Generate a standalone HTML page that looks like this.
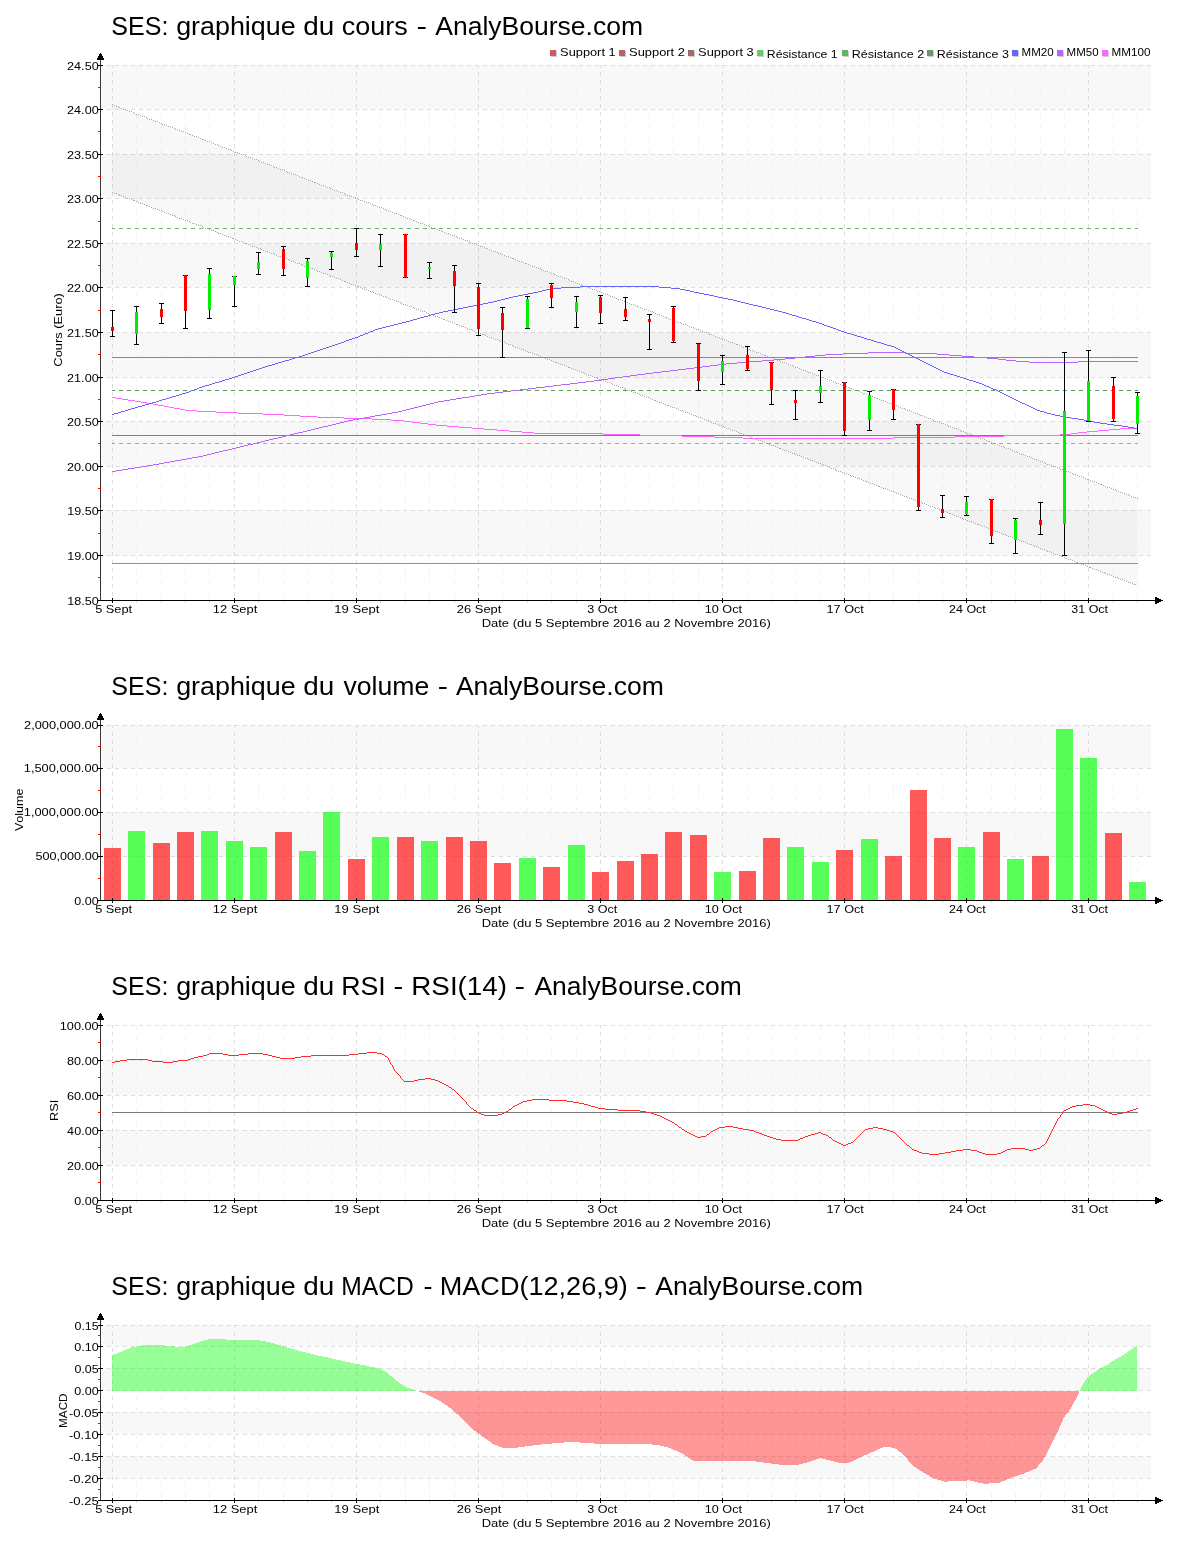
<!DOCTYPE html><html><head><meta charset="utf-8"><title>SES</title><style>html,body{margin:0;padding:0;background:#fff;overflow:hidden}svg{display:block;will-change:transform}text{font-family:"Liberation Sans",sans-serif;font-kerning:none}</style></head><body>
<svg width="1200" height="1550" viewBox="0 0 1200 1550">
<rect x="0" y="0" width="1200" height="1550" fill="#ffffff"/>
<rect x="102" y="65" width="1049" height="44" fill="#f8f8f8"/>
<rect x="102" y="154" width="1049" height="44" fill="#f8f8f8"/>
<rect x="102" y="243" width="1049" height="44" fill="#f8f8f8"/>
<rect x="102" y="332" width="1049" height="45" fill="#f8f8f8"/>
<rect x="102" y="421" width="1049" height="45" fill="#f8f8f8"/>
<rect x="102" y="510" width="1049" height="45" fill="#f8f8f8"/>
<line x1="112.5" y1="65" x2="112.5" y2="600" stroke="#dddddd" stroke-dasharray="4 4" stroke-dashoffset="1" shape-rendering="crispEdges"/>
<line x1="136.5" y1="65" x2="136.5" y2="600" stroke="#f3f3f3" stroke-dasharray="6 6" stroke-dashoffset="1" shape-rendering="crispEdges"/>
<line x1="161.5" y1="65" x2="161.5" y2="600" stroke="#f3f3f3" stroke-dasharray="6 6" stroke-dashoffset="1" shape-rendering="crispEdges"/>
<line x1="185.5" y1="65" x2="185.5" y2="600" stroke="#f3f3f3" stroke-dasharray="6 6" stroke-dashoffset="1" shape-rendering="crispEdges"/>
<line x1="209.5" y1="65" x2="209.5" y2="600" stroke="#f3f3f3" stroke-dasharray="6 6" stroke-dashoffset="1" shape-rendering="crispEdges"/>
<line x1="234.5" y1="65" x2="234.5" y2="600" stroke="#dddddd" stroke-dasharray="4 4" stroke-dashoffset="1" shape-rendering="crispEdges"/>
<line x1="258.5" y1="65" x2="258.5" y2="600" stroke="#f3f3f3" stroke-dasharray="6 6" stroke-dashoffset="1" shape-rendering="crispEdges"/>
<line x1="283.5" y1="65" x2="283.5" y2="600" stroke="#f3f3f3" stroke-dasharray="6 6" stroke-dashoffset="1" shape-rendering="crispEdges"/>
<line x1="307.5" y1="65" x2="307.5" y2="600" stroke="#f3f3f3" stroke-dasharray="6 6" stroke-dashoffset="1" shape-rendering="crispEdges"/>
<line x1="331.5" y1="65" x2="331.5" y2="600" stroke="#f3f3f3" stroke-dasharray="6 6" stroke-dashoffset="1" shape-rendering="crispEdges"/>
<line x1="356.5" y1="65" x2="356.5" y2="600" stroke="#dddddd" stroke-dasharray="4 4" stroke-dashoffset="1" shape-rendering="crispEdges"/>
<line x1="380.5" y1="65" x2="380.5" y2="600" stroke="#f3f3f3" stroke-dasharray="6 6" stroke-dashoffset="1" shape-rendering="crispEdges"/>
<line x1="405.5" y1="65" x2="405.5" y2="600" stroke="#f3f3f3" stroke-dasharray="6 6" stroke-dashoffset="1" shape-rendering="crispEdges"/>
<line x1="429.5" y1="65" x2="429.5" y2="600" stroke="#f3f3f3" stroke-dasharray="6 6" stroke-dashoffset="1" shape-rendering="crispEdges"/>
<line x1="454.5" y1="65" x2="454.5" y2="600" stroke="#f3f3f3" stroke-dasharray="6 6" stroke-dashoffset="1" shape-rendering="crispEdges"/>
<line x1="478.5" y1="65" x2="478.5" y2="600" stroke="#dddddd" stroke-dasharray="4 4" stroke-dashoffset="1" shape-rendering="crispEdges"/>
<line x1="502.5" y1="65" x2="502.5" y2="600" stroke="#f3f3f3" stroke-dasharray="6 6" stroke-dashoffset="1" shape-rendering="crispEdges"/>
<line x1="527.5" y1="65" x2="527.5" y2="600" stroke="#f3f3f3" stroke-dasharray="6 6" stroke-dashoffset="1" shape-rendering="crispEdges"/>
<line x1="551.5" y1="65" x2="551.5" y2="600" stroke="#f3f3f3" stroke-dasharray="6 6" stroke-dashoffset="1" shape-rendering="crispEdges"/>
<line x1="576.5" y1="65" x2="576.5" y2="600" stroke="#f3f3f3" stroke-dasharray="6 6" stroke-dashoffset="1" shape-rendering="crispEdges"/>
<line x1="600.5" y1="65" x2="600.5" y2="600" stroke="#dddddd" stroke-dasharray="4 4" stroke-dashoffset="1" shape-rendering="crispEdges"/>
<line x1="625.5" y1="65" x2="625.5" y2="600" stroke="#f3f3f3" stroke-dasharray="6 6" stroke-dashoffset="1" shape-rendering="crispEdges"/>
<line x1="649.5" y1="65" x2="649.5" y2="600" stroke="#f3f3f3" stroke-dasharray="6 6" stroke-dashoffset="1" shape-rendering="crispEdges"/>
<line x1="673.5" y1="65" x2="673.5" y2="600" stroke="#f3f3f3" stroke-dasharray="6 6" stroke-dashoffset="1" shape-rendering="crispEdges"/>
<line x1="698.5" y1="65" x2="698.5" y2="600" stroke="#f3f3f3" stroke-dasharray="6 6" stroke-dashoffset="1" shape-rendering="crispEdges"/>
<line x1="722.5" y1="65" x2="722.5" y2="600" stroke="#dddddd" stroke-dasharray="4 4" stroke-dashoffset="1" shape-rendering="crispEdges"/>
<line x1="747.5" y1="65" x2="747.5" y2="600" stroke="#f3f3f3" stroke-dasharray="6 6" stroke-dashoffset="1" shape-rendering="crispEdges"/>
<line x1="771.5" y1="65" x2="771.5" y2="600" stroke="#f3f3f3" stroke-dasharray="6 6" stroke-dashoffset="1" shape-rendering="crispEdges"/>
<line x1="795.5" y1="65" x2="795.5" y2="600" stroke="#f3f3f3" stroke-dasharray="6 6" stroke-dashoffset="1" shape-rendering="crispEdges"/>
<line x1="820.5" y1="65" x2="820.5" y2="600" stroke="#f3f3f3" stroke-dasharray="6 6" stroke-dashoffset="1" shape-rendering="crispEdges"/>
<line x1="844.5" y1="65" x2="844.5" y2="600" stroke="#dddddd" stroke-dasharray="4 4" stroke-dashoffset="1" shape-rendering="crispEdges"/>
<line x1="869.5" y1="65" x2="869.5" y2="600" stroke="#f3f3f3" stroke-dasharray="6 6" stroke-dashoffset="1" shape-rendering="crispEdges"/>
<line x1="893.5" y1="65" x2="893.5" y2="600" stroke="#f3f3f3" stroke-dasharray="6 6" stroke-dashoffset="1" shape-rendering="crispEdges"/>
<line x1="918.5" y1="65" x2="918.5" y2="600" stroke="#f3f3f3" stroke-dasharray="6 6" stroke-dashoffset="1" shape-rendering="crispEdges"/>
<line x1="942.5" y1="65" x2="942.5" y2="600" stroke="#f3f3f3" stroke-dasharray="6 6" stroke-dashoffset="1" shape-rendering="crispEdges"/>
<line x1="966.5" y1="65" x2="966.5" y2="600" stroke="#dddddd" stroke-dasharray="4 4" stroke-dashoffset="1" shape-rendering="crispEdges"/>
<line x1="991.5" y1="65" x2="991.5" y2="600" stroke="#f3f3f3" stroke-dasharray="6 6" stroke-dashoffset="1" shape-rendering="crispEdges"/>
<line x1="1015.5" y1="65" x2="1015.5" y2="600" stroke="#f3f3f3" stroke-dasharray="6 6" stroke-dashoffset="1" shape-rendering="crispEdges"/>
<line x1="1040.5" y1="65" x2="1040.5" y2="600" stroke="#f3f3f3" stroke-dasharray="6 6" stroke-dashoffset="1" shape-rendering="crispEdges"/>
<line x1="1064.5" y1="65" x2="1064.5" y2="600" stroke="#f3f3f3" stroke-dasharray="6 6" stroke-dashoffset="1" shape-rendering="crispEdges"/>
<line x1="1088.5" y1="65" x2="1088.5" y2="600" stroke="#dddddd" stroke-dasharray="4 4" stroke-dashoffset="1" shape-rendering="crispEdges"/>
<line x1="1113.5" y1="65" x2="1113.5" y2="600" stroke="#f3f3f3" stroke-dasharray="6 6" stroke-dashoffset="1" shape-rendering="crispEdges"/>
<line x1="1137.5" y1="65" x2="1137.5" y2="600" stroke="#f3f3f3" stroke-dasharray="6 6" stroke-dashoffset="1" shape-rendering="crispEdges"/>
<line x1="102" y1="65.5" x2="1151" y2="65.5" stroke="#dddddd" stroke-dasharray="4 4" stroke-dashoffset="3" shape-rendering="crispEdges"/>
<line x1="102" y1="109.5" x2="1151" y2="109.5" stroke="#dddddd" stroke-dasharray="4 4" stroke-dashoffset="3" shape-rendering="crispEdges"/>
<line x1="102" y1="154.5" x2="1151" y2="154.5" stroke="#dddddd" stroke-dasharray="4 4" stroke-dashoffset="3" shape-rendering="crispEdges"/>
<line x1="102" y1="198.5" x2="1151" y2="198.5" stroke="#dddddd" stroke-dasharray="4 4" stroke-dashoffset="3" shape-rendering="crispEdges"/>
<line x1="102" y1="243.5" x2="1151" y2="243.5" stroke="#dddddd" stroke-dasharray="4 4" stroke-dashoffset="3" shape-rendering="crispEdges"/>
<line x1="102" y1="287.5" x2="1151" y2="287.5" stroke="#dddddd" stroke-dasharray="4 4" stroke-dashoffset="3" shape-rendering="crispEdges"/>
<line x1="102" y1="332.5" x2="1151" y2="332.5" stroke="#dddddd" stroke-dasharray="4 4" stroke-dashoffset="3" shape-rendering="crispEdges"/>
<line x1="102" y1="377.5" x2="1151" y2="377.5" stroke="#dddddd" stroke-dasharray="4 4" stroke-dashoffset="3" shape-rendering="crispEdges"/>
<line x1="102" y1="421.5" x2="1151" y2="421.5" stroke="#dddddd" stroke-dasharray="4 4" stroke-dashoffset="3" shape-rendering="crispEdges"/>
<line x1="102" y1="466.5" x2="1151" y2="466.5" stroke="#dddddd" stroke-dasharray="4 4" stroke-dashoffset="3" shape-rendering="crispEdges"/>
<line x1="102" y1="510.5" x2="1151" y2="510.5" stroke="#dddddd" stroke-dasharray="4 4" stroke-dashoffset="3" shape-rendering="crispEdges"/>
<line x1="102" y1="555.5" x2="1151" y2="555.5" stroke="#dddddd" stroke-dasharray="4 4" stroke-dashoffset="3" shape-rendering="crispEdges"/>
<polygon points="112,104.7 1137,498.5 1137,585.6 112,192.3" fill="#000" fill-opacity="0.028"/>
<path d="M112 104h1v1h-1zM114 105h1v1h-1zM116 106h1v1h-1zM118 106h1v1h-1zM119 107h1v1h-1zM121 108h1v1h-1zM123 109h1v1h-1zM125 109h1v1h-1zM127 110h1v1h-1zM129 111h1v1h-1zM131 111h1v1h-1zM133 112h1v1h-1zM134 113h1v1h-1zM136 114h1v1h-1zM138 114h1v1h-1zM140 115h1v1h-1zM142 116h1v1h-1zM144 116h1v1h-1zM146 117h1v1h-1zM147 118h1v1h-1zM149 119h1v1h-1zM151 119h1v1h-1zM153 120h1v1h-1zM155 121h1v1h-1zM157 121h1v1h-1zM159 122h1v1h-1zM161 123h1v1h-1zM162 124h1v1h-1zM164 124h1v1h-1zM166 125h1v1h-1zM168 126h1v1h-1zM170 126h1v1h-1zM172 127h1v1h-1zM174 128h1v1h-1zM175 129h1v1h-1zM177 129h1v1h-1zM179 130h1v1h-1zM181 131h1v1h-1zM183 131h1v1h-1zM185 132h1v1h-1zM187 133h1v1h-1zM189 134h1v1h-1zM190 134h1v1h-1zM192 135h1v1h-1zM194 136h1v1h-1zM196 136h1v1h-1zM198 137h1v1h-1zM200 138h1v1h-1zM202 139h1v1h-1zM203 139h1v1h-1zM205 140h1v1h-1zM207 141h1v1h-1zM209 141h1v1h-1zM211 142h1v1h-1zM213 143h1v1h-1zM215 144h1v1h-1zM217 144h1v1h-1zM218 145h1v1h-1zM220 146h1v1h-1zM222 147h1v1h-1zM224 147h1v1h-1zM226 148h1v1h-1zM228 149h1v1h-1zM230 149h1v1h-1zM231 150h1v1h-1zM233 151h1v1h-1zM235 152h1v1h-1zM237 152h1v1h-1zM239 153h1v1h-1zM241 154h1v1h-1zM243 154h1v1h-1zM245 155h1v1h-1zM246 156h1v1h-1zM248 157h1v1h-1zM250 157h1v1h-1zM252 158h1v1h-1zM254 159h1v1h-1zM256 159h1v1h-1zM258 160h1v1h-1zM259 161h1v1h-1zM261 162h1v1h-1zM263 162h1v1h-1zM265 163h1v1h-1zM267 164h1v1h-1zM269 164h1v1h-1zM271 165h1v1h-1zM273 166h1v1h-1zM274 167h1v1h-1zM276 167h1v1h-1zM278 168h1v1h-1zM280 169h1v1h-1zM282 169h1v1h-1zM284 170h1v1h-1zM286 171h1v1h-1zM287 172h1v1h-1zM289 172h1v1h-1zM291 173h1v1h-1zM293 174h1v1h-1zM295 174h1v1h-1zM297 175h1v1h-1zM299 176h1v1h-1zM301 177h1v1h-1zM302 177h1v1h-1zM304 178h1v1h-1zM306 179h1v1h-1zM308 180h1v1h-1zM310 180h1v1h-1zM312 181h1v1h-1zM314 182h1v1h-1zM315 182h1v1h-1zM317 183h1v1h-1zM319 184h1v1h-1zM321 185h1v1h-1zM323 185h1v1h-1zM325 186h1v1h-1zM327 187h1v1h-1zM329 187h1v1h-1zM330 188h1v1h-1zM332 189h1v1h-1zM334 190h1v1h-1zM336 190h1v1h-1zM338 191h1v1h-1zM340 192h1v1h-1zM342 192h1v1h-1zM344 193h1v1h-1zM345 194h1v1h-1zM347 195h1v1h-1zM349 195h1v1h-1zM351 196h1v1h-1zM353 197h1v1h-1zM355 197h1v1h-1zM357 198h1v1h-1zM358 199h1v1h-1zM360 200h1v1h-1zM362 200h1v1h-1zM364 201h1v1h-1zM366 202h1v1h-1zM368 202h1v1h-1zM370 203h1v1h-1zM372 204h1v1h-1zM373 205h1v1h-1zM375 205h1v1h-1zM377 206h1v1h-1zM379 207h1v1h-1zM381 207h1v1h-1zM383 208h1v1h-1zM385 209h1v1h-1zM386 210h1v1h-1zM388 210h1v1h-1zM390 211h1v1h-1zM392 212h1v1h-1zM394 213h1v1h-1zM396 213h1v1h-1zM398 214h1v1h-1zM400 215h1v1h-1zM401 215h1v1h-1zM403 216h1v1h-1zM405 217h1v1h-1zM407 218h1v1h-1zM409 218h1v1h-1zM411 219h1v1h-1zM413 220h1v1h-1zM414 220h1v1h-1zM416 221h1v1h-1zM418 222h1v1h-1zM420 223h1v1h-1zM422 223h1v1h-1zM424 224h1v1h-1zM426 225h1v1h-1zM428 225h1v1h-1zM429 226h1v1h-1zM431 227h1v1h-1zM433 228h1v1h-1zM435 228h1v1h-1zM437 229h1v1h-1zM439 230h1v1h-1zM441 230h1v1h-1zM442 231h1v1h-1zM444 232h1v1h-1zM446 233h1v1h-1zM448 233h1v1h-1zM450 234h1v1h-1zM452 235h1v1h-1zM454 235h1v1h-1zM456 236h1v1h-1zM457 237h1v1h-1zM459 238h1v1h-1zM461 238h1v1h-1zM463 239h1v1h-1zM465 240h1v1h-1zM467 240h1v1h-1zM469 241h1v1h-1zM470 242h1v1h-1zM472 243h1v1h-1zM474 243h1v1h-1zM476 244h1v1h-1zM478 245h1v1h-1zM480 246h1v1h-1zM482 246h1v1h-1zM484 247h1v1h-1zM485 248h1v1h-1zM487 248h1v1h-1zM489 249h1v1h-1zM491 250h1v1h-1zM493 251h1v1h-1zM495 251h1v1h-1zM497 252h1v1h-1zM498 253h1v1h-1zM500 253h1v1h-1zM502 254h1v1h-1zM504 255h1v1h-1zM506 256h1v1h-1zM508 256h1v1h-1zM510 257h1v1h-1zM512 258h1v1h-1zM513 258h1v1h-1zM515 259h1v1h-1zM517 260h1v1h-1zM519 261h1v1h-1zM521 261h1v1h-1zM523 262h1v1h-1zM525 263h1v1h-1zM526 263h1v1h-1zM528 264h1v1h-1zM530 265h1v1h-1zM532 266h1v1h-1zM534 266h1v1h-1zM536 267h1v1h-1zM538 268h1v1h-1zM540 268h1v1h-1zM541 269h1v1h-1zM543 270h1v1h-1zM545 271h1v1h-1zM547 271h1v1h-1zM549 272h1v1h-1zM551 273h1v1h-1zM553 273h1v1h-1zM554 274h1v1h-1zM556 275h1v1h-1zM558 276h1v1h-1zM560 276h1v1h-1zM562 277h1v1h-1zM564 278h1v1h-1zM566 278h1v1h-1zM568 279h1v1h-1zM569 280h1v1h-1zM571 281h1v1h-1zM573 281h1v1h-1zM575 282h1v1h-1zM577 283h1v1h-1zM579 284h1v1h-1zM581 284h1v1h-1zM582 285h1v1h-1zM584 286h1v1h-1zM586 286h1v1h-1zM588 287h1v1h-1zM590 288h1v1h-1zM592 289h1v1h-1zM594 289h1v1h-1zM596 290h1v1h-1zM597 291h1v1h-1zM599 291h1v1h-1zM601 292h1v1h-1zM603 293h1v1h-1zM605 294h1v1h-1zM607 294h1v1h-1zM609 295h1v1h-1zM610 296h1v1h-1zM612 296h1v1h-1zM614 297h1v1h-1zM616 298h1v1h-1zM618 299h1v1h-1zM620 299h1v1h-1zM622 300h1v1h-1zM624 301h1v1h-1zM625 301h1v1h-1zM627 302h1v1h-1zM629 303h1v1h-1zM631 304h1v1h-1zM633 304h1v1h-1zM635 305h1v1h-1zM637 306h1v1h-1zM638 306h1v1h-1zM640 307h1v1h-1zM642 308h1v1h-1zM644 309h1v1h-1zM646 309h1v1h-1zM648 310h1v1h-1zM650 311h1v1h-1zM652 311h1v1h-1zM653 312h1v1h-1zM655 313h1v1h-1zM657 314h1v1h-1zM659 314h1v1h-1zM661 315h1v1h-1zM663 316h1v1h-1zM665 317h1v1h-1zM666 317h1v1h-1zM668 318h1v1h-1zM670 319h1v1h-1zM672 319h1v1h-1zM674 320h1v1h-1zM676 321h1v1h-1zM678 322h1v1h-1zM680 322h1v1h-1zM681 323h1v1h-1zM683 324h1v1h-1zM685 324h1v1h-1zM687 325h1v1h-1zM689 326h1v1h-1zM691 327h1v1h-1zM693 327h1v1h-1zM694 328h1v1h-1zM696 329h1v1h-1zM698 329h1v1h-1zM700 330h1v1h-1zM702 331h1v1h-1zM704 332h1v1h-1zM706 332h1v1h-1zM708 333h1v1h-1zM709 334h1v1h-1zM711 334h1v1h-1zM713 335h1v1h-1zM715 336h1v1h-1zM717 337h1v1h-1zM719 337h1v1h-1zM721 338h1v1h-1zM722 339h1v1h-1zM724 339h1v1h-1zM726 340h1v1h-1zM728 341h1v1h-1zM730 342h1v1h-1zM732 342h1v1h-1zM734 343h1v1h-1zM736 344h1v1h-1zM737 344h1v1h-1zM739 345h1v1h-1zM741 346h1v1h-1zM743 347h1v1h-1zM745 347h1v1h-1zM747 348h1v1h-1zM749 349h1v1h-1zM750 350h1v1h-1zM752 350h1v1h-1zM754 351h1v1h-1zM756 352h1v1h-1zM758 352h1v1h-1zM760 353h1v1h-1zM762 354h1v1h-1zM764 355h1v1h-1zM765 355h1v1h-1zM767 356h1v1h-1zM769 357h1v1h-1zM771 357h1v1h-1zM773 358h1v1h-1zM775 359h1v1h-1zM777 360h1v1h-1zM779 360h1v1h-1zM780 361h1v1h-1zM782 362h1v1h-1zM784 362h1v1h-1zM786 363h1v1h-1zM788 364h1v1h-1zM790 365h1v1h-1zM792 365h1v1h-1zM793 366h1v1h-1zM795 367h1v1h-1zM797 367h1v1h-1zM799 368h1v1h-1zM801 369h1v1h-1zM803 370h1v1h-1zM805 370h1v1h-1zM807 371h1v1h-1zM808 372h1v1h-1zM810 372h1v1h-1zM812 373h1v1h-1zM814 374h1v1h-1zM816 375h1v1h-1zM818 375h1v1h-1zM820 376h1v1h-1zM821 377h1v1h-1zM823 377h1v1h-1zM825 378h1v1h-1zM827 379h1v1h-1zM829 380h1v1h-1zM831 380h1v1h-1zM833 381h1v1h-1zM835 382h1v1h-1zM836 383h1v1h-1zM838 383h1v1h-1zM840 384h1v1h-1zM842 385h1v1h-1zM844 385h1v1h-1zM846 386h1v1h-1zM848 387h1v1h-1zM849 388h1v1h-1zM851 388h1v1h-1zM853 389h1v1h-1zM855 390h1v1h-1zM857 390h1v1h-1zM859 391h1v1h-1zM861 392h1v1h-1zM863 393h1v1h-1zM864 393h1v1h-1zM866 394h1v1h-1zM868 395h1v1h-1zM870 395h1v1h-1zM872 396h1v1h-1zM874 397h1v1h-1zM876 398h1v1h-1zM877 398h1v1h-1zM879 399h1v1h-1zM881 400h1v1h-1zM883 400h1v1h-1zM885 401h1v1h-1zM887 402h1v1h-1zM889 403h1v1h-1zM891 403h1v1h-1zM892 404h1v1h-1zM894 405h1v1h-1zM896 405h1v1h-1zM898 406h1v1h-1zM900 407h1v1h-1zM902 408h1v1h-1zM904 408h1v1h-1zM905 409h1v1h-1zM907 410h1v1h-1zM909 410h1v1h-1zM911 411h1v1h-1zM913 412h1v1h-1zM915 413h1v1h-1zM917 413h1v1h-1zM919 414h1v1h-1zM920 415h1v1h-1zM922 415h1v1h-1zM924 416h1v1h-1zM926 417h1v1h-1zM928 418h1v1h-1zM930 418h1v1h-1zM932 419h1v1h-1zM933 420h1v1h-1zM935 421h1v1h-1zM937 421h1v1h-1zM939 422h1v1h-1zM941 423h1v1h-1zM943 423h1v1h-1zM945 424h1v1h-1zM947 425h1v1h-1zM948 426h1v1h-1zM950 426h1v1h-1zM952 427h1v1h-1zM954 428h1v1h-1zM956 428h1v1h-1zM958 429h1v1h-1zM960 430h1v1h-1zM961 431h1v1h-1zM963 431h1v1h-1zM965 432h1v1h-1zM967 433h1v1h-1zM969 433h1v1h-1zM971 434h1v1h-1zM973 435h1v1h-1zM975 436h1v1h-1zM976 436h1v1h-1zM978 437h1v1h-1zM980 438h1v1h-1zM982 438h1v1h-1zM984 439h1v1h-1zM986 440h1v1h-1zM988 441h1v1h-1zM989 441h1v1h-1zM991 442h1v1h-1zM993 443h1v1h-1zM995 443h1v1h-1zM997 444h1v1h-1zM999 445h1v1h-1zM1001 446h1v1h-1zM1003 446h1v1h-1zM1004 447h1v1h-1zM1006 448h1v1h-1zM1008 448h1v1h-1zM1010 449h1v1h-1zM1012 450h1v1h-1zM1014 451h1v1h-1zM1016 451h1v1h-1zM1017 452h1v1h-1zM1019 453h1v1h-1zM1021 454h1v1h-1zM1023 454h1v1h-1zM1025 455h1v1h-1zM1027 456h1v1h-1zM1029 456h1v1h-1zM1031 457h1v1h-1zM1032 458h1v1h-1zM1034 459h1v1h-1zM1036 459h1v1h-1zM1038 460h1v1h-1zM1040 461h1v1h-1zM1042 461h1v1h-1zM1044 462h1v1h-1zM1045 463h1v1h-1zM1047 464h1v1h-1zM1049 464h1v1h-1zM1051 465h1v1h-1zM1053 466h1v1h-1zM1055 466h1v1h-1zM1057 467h1v1h-1zM1059 468h1v1h-1zM1060 469h1v1h-1zM1062 469h1v1h-1zM1064 470h1v1h-1zM1066 471h1v1h-1zM1068 471h1v1h-1zM1070 472h1v1h-1zM1072 473h1v1h-1zM1073 474h1v1h-1zM1075 474h1v1h-1zM1077 475h1v1h-1zM1079 476h1v1h-1zM1081 476h1v1h-1zM1083 477h1v1h-1zM1085 478h1v1h-1zM1087 479h1v1h-1zM1088 479h1v1h-1zM1090 480h1v1h-1zM1092 481h1v1h-1zM1094 481h1v1h-1zM1096 482h1v1h-1zM1098 483h1v1h-1zM1100 484h1v1h-1zM1101 484h1v1h-1zM1103 485h1v1h-1zM1105 486h1v1h-1zM1107 487h1v1h-1zM1109 487h1v1h-1zM1111 488h1v1h-1zM1113 489h1v1h-1zM1115 489h1v1h-1zM1116 490h1v1h-1zM1118 491h1v1h-1zM1120 492h1v1h-1zM1122 492h1v1h-1zM1124 493h1v1h-1zM1126 494h1v1h-1zM1128 494h1v1h-1zM1129 495h1v1h-1zM1131 496h1v1h-1zM1133 497h1v1h-1zM1135 497h1v1h-1zM1137 498h1v1h-1zM112 192h1v1h-1zM114 193h1v1h-1zM116 193h1v1h-1zM118 194h1v1h-1zM119 195h1v1h-1zM121 195h1v1h-1zM123 196h1v1h-1zM125 197h1v1h-1zM127 198h1v1h-1zM129 198h1v1h-1zM131 199h1v1h-1zM133 200h1v1h-1zM134 200h1v1h-1zM136 201h1v1h-1zM138 202h1v1h-1zM140 203h1v1h-1zM142 203h1v1h-1zM144 204h1v1h-1zM146 205h1v1h-1zM147 205h1v1h-1zM149 206h1v1h-1zM151 207h1v1h-1zM153 208h1v1h-1zM155 208h1v1h-1zM157 209h1v1h-1zM159 210h1v1h-1zM161 210h1v1h-1zM162 211h1v1h-1zM164 212h1v1h-1zM166 213h1v1h-1zM168 213h1v1h-1zM170 214h1v1h-1zM172 215h1v1h-1zM174 215h1v1h-1zM175 216h1v1h-1zM177 217h1v1h-1zM179 218h1v1h-1zM181 218h1v1h-1zM183 219h1v1h-1zM185 220h1v1h-1zM187 220h1v1h-1zM189 221h1v1h-1zM190 222h1v1h-1zM192 223h1v1h-1zM194 223h1v1h-1zM196 224h1v1h-1zM198 225h1v1h-1zM200 225h1v1h-1zM202 226h1v1h-1zM203 227h1v1h-1zM205 228h1v1h-1zM207 228h1v1h-1zM209 229h1v1h-1zM211 230h1v1h-1zM213 230h1v1h-1zM215 231h1v1h-1zM217 232h1v1h-1zM218 233h1v1h-1zM220 233h1v1h-1zM222 234h1v1h-1zM224 235h1v1h-1zM226 236h1v1h-1zM228 236h1v1h-1zM230 237h1v1h-1zM232 238h1v1h-1zM233 238h1v1h-1zM235 239h1v1h-1zM237 240h1v1h-1zM239 241h1v1h-1zM241 241h1v1h-1zM243 242h1v1h-1zM245 243h1v1h-1zM246 243h1v1h-1zM248 244h1v1h-1zM250 245h1v1h-1zM252 246h1v1h-1zM254 246h1v1h-1zM256 247h1v1h-1zM258 248h1v1h-1zM260 248h1v1h-1zM261 249h1v1h-1zM263 250h1v1h-1zM265 251h1v1h-1zM267 251h1v1h-1zM269 252h1v1h-1zM271 253h1v1h-1zM273 253h1v1h-1zM274 254h1v1h-1zM276 255h1v1h-1zM278 256h1v1h-1zM280 256h1v1h-1zM282 257h1v1h-1zM284 258h1v1h-1zM286 258h1v1h-1zM288 259h1v1h-1zM289 260h1v1h-1zM291 261h1v1h-1zM293 261h1v1h-1zM295 262h1v1h-1zM297 263h1v1h-1zM299 263h1v1h-1zM301 264h1v1h-1zM302 265h1v1h-1zM304 266h1v1h-1zM306 266h1v1h-1zM308 267h1v1h-1zM310 268h1v1h-1zM312 268h1v1h-1zM314 269h1v1h-1zM316 270h1v1h-1zM317 271h1v1h-1zM319 271h1v1h-1zM321 272h1v1h-1zM323 273h1v1h-1zM325 273h1v1h-1zM327 274h1v1h-1zM329 275h1v1h-1zM330 276h1v1h-1zM332 276h1v1h-1zM334 277h1v1h-1zM336 278h1v1h-1zM338 278h1v1h-1zM340 279h1v1h-1zM342 280h1v1h-1zM344 281h1v1h-1zM345 281h1v1h-1zM347 282h1v1h-1zM349 283h1v1h-1zM351 284h1v1h-1zM353 284h1v1h-1zM355 285h1v1h-1zM357 286h1v1h-1zM358 286h1v1h-1zM360 287h1v1h-1zM362 288h1v1h-1zM364 289h1v1h-1zM366 289h1v1h-1zM368 290h1v1h-1zM370 291h1v1h-1zM372 291h1v1h-1zM373 292h1v1h-1zM375 293h1v1h-1zM377 294h1v1h-1zM379 294h1v1h-1zM381 295h1v1h-1zM383 296h1v1h-1zM385 296h1v1h-1zM386 297h1v1h-1zM388 298h1v1h-1zM390 299h1v1h-1zM392 299h1v1h-1zM394 300h1v1h-1zM396 301h1v1h-1zM398 301h1v1h-1zM400 302h1v1h-1zM401 303h1v1h-1zM403 304h1v1h-1zM405 304h1v1h-1zM407 305h1v1h-1zM409 306h1v1h-1zM411 306h1v1h-1zM413 307h1v1h-1zM414 308h1v1h-1zM416 309h1v1h-1zM418 309h1v1h-1zM420 310h1v1h-1zM422 311h1v1h-1zM424 311h1v1h-1zM426 312h1v1h-1zM428 313h1v1h-1zM429 314h1v1h-1zM431 314h1v1h-1zM433 315h1v1h-1zM435 316h1v1h-1zM437 316h1v1h-1zM439 317h1v1h-1zM441 318h1v1h-1zM443 319h1v1h-1zM444 319h1v1h-1zM446 320h1v1h-1zM448 321h1v1h-1zM450 321h1v1h-1zM452 322h1v1h-1zM454 323h1v1h-1zM456 324h1v1h-1zM457 324h1v1h-1zM459 325h1v1h-1zM461 326h1v1h-1zM463 326h1v1h-1zM465 327h1v1h-1zM467 328h1v1h-1zM469 329h1v1h-1zM471 329h1v1h-1zM472 330h1v1h-1zM474 331h1v1h-1zM476 332h1v1h-1zM478 332h1v1h-1zM480 333h1v1h-1zM482 334h1v1h-1zM484 334h1v1h-1zM485 335h1v1h-1zM487 336h1v1h-1zM489 337h1v1h-1zM491 337h1v1h-1zM493 338h1v1h-1zM495 339h1v1h-1zM497 339h1v1h-1zM499 340h1v1h-1zM500 341h1v1h-1zM502 342h1v1h-1zM504 342h1v1h-1zM506 343h1v1h-1zM508 344h1v1h-1zM510 344h1v1h-1zM512 345h1v1h-1zM513 346h1v1h-1zM515 347h1v1h-1zM517 347h1v1h-1zM519 348h1v1h-1zM521 349h1v1h-1zM523 349h1v1h-1zM525 350h1v1h-1zM527 351h1v1h-1zM528 352h1v1h-1zM530 352h1v1h-1zM532 353h1v1h-1zM534 354h1v1h-1zM536 354h1v1h-1zM538 355h1v1h-1zM540 356h1v1h-1zM541 357h1v1h-1zM543 357h1v1h-1zM545 358h1v1h-1zM547 359h1v1h-1zM549 359h1v1h-1zM551 360h1v1h-1zM553 361h1v1h-1zM555 362h1v1h-1zM556 362h1v1h-1zM558 363h1v1h-1zM560 364h1v1h-1zM562 364h1v1h-1zM564 365h1v1h-1zM566 366h1v1h-1zM568 367h1v1h-1zM569 367h1v1h-1zM571 368h1v1h-1zM573 369h1v1h-1zM575 369h1v1h-1zM577 370h1v1h-1zM579 371h1v1h-1zM581 372h1v1h-1zM583 372h1v1h-1zM584 373h1v1h-1zM586 374h1v1h-1zM588 375h1v1h-1zM590 375h1v1h-1zM592 376h1v1h-1zM594 377h1v1h-1zM596 377h1v1h-1zM597 378h1v1h-1zM599 379h1v1h-1zM601 380h1v1h-1zM603 380h1v1h-1zM605 381h1v1h-1zM607 382h1v1h-1zM609 382h1v1h-1zM611 383h1v1h-1zM612 384h1v1h-1zM614 385h1v1h-1zM616 385h1v1h-1zM618 386h1v1h-1zM620 387h1v1h-1zM622 387h1v1h-1zM624 388h1v1h-1zM625 389h1v1h-1zM627 390h1v1h-1zM629 390h1v1h-1zM631 391h1v1h-1zM633 392h1v1h-1zM635 392h1v1h-1zM637 393h1v1h-1zM639 394h1v1h-1zM640 395h1v1h-1zM642 395h1v1h-1zM644 396h1v1h-1zM646 397h1v1h-1zM648 397h1v1h-1zM650 398h1v1h-1zM652 399h1v1h-1zM654 400h1v1h-1zM655 400h1v1h-1zM657 401h1v1h-1zM659 402h1v1h-1zM661 402h1v1h-1zM663 403h1v1h-1zM665 404h1v1h-1zM667 405h1v1h-1zM668 405h1v1h-1zM670 406h1v1h-1zM672 407h1v1h-1zM674 407h1v1h-1zM676 408h1v1h-1zM678 409h1v1h-1zM680 410h1v1h-1zM682 410h1v1h-1zM683 411h1v1h-1zM685 412h1v1h-1zM687 412h1v1h-1zM689 413h1v1h-1zM691 414h1v1h-1zM693 415h1v1h-1zM695 415h1v1h-1zM696 416h1v1h-1zM698 417h1v1h-1zM700 417h1v1h-1zM702 418h1v1h-1zM704 419h1v1h-1zM706 420h1v1h-1zM708 420h1v1h-1zM710 421h1v1h-1zM711 422h1v1h-1zM713 423h1v1h-1zM715 423h1v1h-1zM717 424h1v1h-1zM719 425h1v1h-1zM721 425h1v1h-1zM723 426h1v1h-1zM724 427h1v1h-1zM726 428h1v1h-1zM728 428h1v1h-1zM730 429h1v1h-1zM732 430h1v1h-1zM734 430h1v1h-1zM736 431h1v1h-1zM738 432h1v1h-1zM739 433h1v1h-1zM741 433h1v1h-1zM743 434h1v1h-1zM745 435h1v1h-1zM747 435h1v1h-1zM749 436h1v1h-1zM751 437h1v1h-1zM752 438h1v1h-1zM754 438h1v1h-1zM756 439h1v1h-1zM758 440h1v1h-1zM760 440h1v1h-1zM762 441h1v1h-1zM764 442h1v1h-1zM766 443h1v1h-1zM767 443h1v1h-1zM769 444h1v1h-1zM771 445h1v1h-1zM773 445h1v1h-1zM775 446h1v1h-1zM777 447h1v1h-1zM779 448h1v1h-1zM780 448h1v1h-1zM782 449h1v1h-1zM784 450h1v1h-1zM786 450h1v1h-1zM788 451h1v1h-1zM790 452h1v1h-1zM792 453h1v1h-1zM794 453h1v1h-1zM795 454h1v1h-1zM797 455h1v1h-1zM799 455h1v1h-1zM801 456h1v1h-1zM803 457h1v1h-1zM805 458h1v1h-1zM807 458h1v1h-1zM808 459h1v1h-1zM810 460h1v1h-1zM812 460h1v1h-1zM814 461h1v1h-1zM816 462h1v1h-1zM818 463h1v1h-1zM820 463h1v1h-1zM822 464h1v1h-1zM823 465h1v1h-1zM825 465h1v1h-1zM827 466h1v1h-1zM829 467h1v1h-1zM831 468h1v1h-1zM833 468h1v1h-1zM835 469h1v1h-1zM836 470h1v1h-1zM838 471h1v1h-1zM840 471h1v1h-1zM842 472h1v1h-1zM844 473h1v1h-1zM846 473h1v1h-1zM848 474h1v1h-1zM850 475h1v1h-1zM851 476h1v1h-1zM853 476h1v1h-1zM855 477h1v1h-1zM857 478h1v1h-1zM859 478h1v1h-1zM861 479h1v1h-1zM863 480h1v1h-1zM865 481h1v1h-1zM866 481h1v1h-1zM868 482h1v1h-1zM870 483h1v1h-1zM872 483h1v1h-1zM874 484h1v1h-1zM876 485h1v1h-1zM878 486h1v1h-1zM879 486h1v1h-1zM881 487h1v1h-1zM883 488h1v1h-1zM885 488h1v1h-1zM887 489h1v1h-1zM889 490h1v1h-1zM891 491h1v1h-1zM893 491h1v1h-1zM894 492h1v1h-1zM896 493h1v1h-1zM898 493h1v1h-1zM900 494h1v1h-1zM902 495h1v1h-1zM904 496h1v1h-1zM906 496h1v1h-1zM907 497h1v1h-1zM909 498h1v1h-1zM911 498h1v1h-1zM913 499h1v1h-1zM915 500h1v1h-1zM917 501h1v1h-1zM919 501h1v1h-1zM921 502h1v1h-1zM922 503h1v1h-1zM924 503h1v1h-1zM926 504h1v1h-1zM928 505h1v1h-1zM930 506h1v1h-1zM932 506h1v1h-1zM934 507h1v1h-1zM935 508h1v1h-1zM937 508h1v1h-1zM939 509h1v1h-1zM941 510h1v1h-1zM943 511h1v1h-1zM945 511h1v1h-1zM947 512h1v1h-1zM949 513h1v1h-1zM950 513h1v1h-1zM952 514h1v1h-1zM954 515h1v1h-1zM956 516h1v1h-1zM958 516h1v1h-1zM960 517h1v1h-1zM962 518h1v1h-1zM963 519h1v1h-1zM965 519h1v1h-1zM967 520h1v1h-1zM969 521h1v1h-1zM971 521h1v1h-1zM973 522h1v1h-1zM975 523h1v1h-1zM977 524h1v1h-1zM978 524h1v1h-1zM980 525h1v1h-1zM982 526h1v1h-1zM984 526h1v1h-1zM986 527h1v1h-1zM988 528h1v1h-1zM990 529h1v1h-1zM991 529h1v1h-1zM993 530h1v1h-1zM995 531h1v1h-1zM997 531h1v1h-1zM999 532h1v1h-1zM1001 533h1v1h-1zM1003 534h1v1h-1zM1005 534h1v1h-1zM1006 535h1v1h-1zM1008 536h1v1h-1zM1010 536h1v1h-1zM1012 537h1v1h-1zM1014 538h1v1h-1zM1016 539h1v1h-1zM1018 539h1v1h-1zM1019 540h1v1h-1zM1021 541h1v1h-1zM1023 541h1v1h-1zM1025 542h1v1h-1zM1027 543h1v1h-1zM1029 544h1v1h-1zM1031 544h1v1h-1zM1033 545h1v1h-1zM1034 546h1v1h-1zM1036 546h1v1h-1zM1038 547h1v1h-1zM1040 548h1v1h-1zM1042 549h1v1h-1zM1044 549h1v1h-1zM1046 550h1v1h-1zM1047 551h1v1h-1zM1049 551h1v1h-1zM1051 552h1v1h-1zM1053 553h1v1h-1zM1055 554h1v1h-1zM1057 554h1v1h-1zM1059 555h1v1h-1zM1061 556h1v1h-1zM1062 556h1v1h-1zM1064 557h1v1h-1zM1066 558h1v1h-1zM1068 559h1v1h-1zM1070 559h1v1h-1zM1072 560h1v1h-1zM1074 561h1v1h-1zM1076 562h1v1h-1zM1077 562h1v1h-1zM1079 563h1v1h-1zM1081 564h1v1h-1zM1083 564h1v1h-1zM1085 565h1v1h-1zM1087 566h1v1h-1zM1089 567h1v1h-1zM1090 567h1v1h-1zM1092 568h1v1h-1zM1094 569h1v1h-1zM1096 569h1v1h-1zM1098 570h1v1h-1zM1100 571h1v1h-1zM1102 572h1v1h-1zM1104 572h1v1h-1zM1105 573h1v1h-1zM1107 574h1v1h-1zM1109 574h1v1h-1zM1111 575h1v1h-1zM1113 576h1v1h-1zM1115 577h1v1h-1zM1117 577h1v1h-1zM1118 578h1v1h-1zM1120 579h1v1h-1zM1122 579h1v1h-1zM1124 580h1v1h-1zM1126 581h1v1h-1zM1128 582h1v1h-1zM1130 582h1v1h-1zM1132 583h1v1h-1zM1133 584h1v1h-1zM1135 584h1v1h-1z" fill="#a8a8a8"/>
<line x1="112" y1="228.5" x2="1138" y2="228.5" stroke="#6cb46c" stroke-dasharray="4 4" stroke-dashoffset="1" shape-rendering="crispEdges"/>
<line x1="112" y1="390.5" x2="1138" y2="390.5" stroke="#5c9a5c" stroke-dasharray="4 4" stroke-dashoffset="1" shape-rendering="crispEdges"/>
<line x1="112" y1="443.5" x2="1138" y2="443.5" stroke="#66cc66" stroke-dasharray="4 4" stroke-dashoffset="1" shape-rendering="crispEdges"/>
<rect x="112" y="357" width="1026" height="1" fill="#bb7474"/>
<rect x="112" y="435" width="1026" height="1" fill="#a86c6c"/>
<rect x="112" y="563" width="1026" height="1" fill="#d27676"/>
<path d="M112 397h4v1h-4zM116 398h6v1h-6zM122 399h6v1h-6zM128 400h7v1h-7zM135 401h6v1h-6zM141 402h6v1h-6zM147 403h6v1h-6zM153 404h5v1h-5zM158 405h6v1h-6zM164 406h5v1h-5zM169 407h5v1h-5zM174 408h6v1h-6zM180 409h5v1h-5zM185 410h12v1h-12zM197 411h19v1h-19zM216 412h22v1h-22zM238 413h25v1h-25zM263 414h21v1h-21zM284 415h16v1h-16zM300 416h17v1h-17zM317 417h27v1h-27zM344 418h28v1h-28zM372 419h19v1h-19zM391 420h13v1h-13zM404 421h8v1h-8zM412 422h8v1h-8zM420 423h8v1h-8zM428 424h8v1h-8zM436 425h11v1h-11zM447 426h12v1h-12zM459 427h13v1h-13zM472 428h12v1h-12zM1120 428h18v1h-18zM484 429h13v1h-13zM1109 429h11v1h-11zM497 430h12v1h-12zM1098 430h11v1h-11zM509 431h13v1h-13zM1087 431h11v1h-11zM522 432h12v1h-12zM1078 432h9v1h-9zM534 433h69v1h-69zM1071 433h7v1h-7zM603 434h37v1h-37zM1060 434h11v1h-11zM640 435h42v1h-42zM1004 435h56v1h-56zM682 436h32v1h-32zM955 436h49v1h-49zM714 437h29v1h-29zM893 437h62v1h-62zM743 438h150v1h-150z" fill="#ff66ff"/>
<path d="M112 471h4v1h-4zM116 470h6v1h-6zM122 469h6v1h-6zM128 468h7v1h-7zM135 467h6v1h-6zM141 466h6v1h-6zM147 465h6v1h-6zM153 464h6v1h-6zM159 463h5v1h-5zM164 462h6v1h-6zM170 461h5v1h-5zM175 460h6v1h-6zM181 459h6v1h-6zM187 458h5v1h-5zM192 457h6v1h-6zM198 456h5v1h-5zM203 455h4v1h-4zM207 454h4v1h-4zM211 453h4v1h-4zM215 452h4v1h-4zM219 451h4v1h-4zM223 450h5v1h-5zM228 449h4v1h-4zM232 448h4v1h-4zM236 447h4v1h-4zM240 446h4v1h-4zM244 445h4v1h-4zM248 444h5v1h-5zM253 443h4v1h-4zM257 442h4v1h-4zM261 441h4v1h-4zM265 440h4v1h-4zM269 439h4v1h-4zM273 438h5v1h-5zM278 437h4v1h-4zM282 436h4v1h-4zM286 435h4v1h-4zM290 434h4v1h-4zM294 433h4v1h-4zM298 432h5v1h-5zM303 431h4v1h-4zM307 430h4v1h-4zM311 429h4v1h-4zM315 428h4v1h-4zM319 427h4v1h-4zM323 426h5v1h-5zM328 425h4v1h-4zM332 424h4v1h-4zM336 423h4v1h-4zM340 422h4v1h-4zM344 421h4v1h-4zM348 420h5v1h-5zM353 419h6v1h-6zM359 418h5v1h-5zM364 417h6v1h-6zM370 416h5v1h-5zM375 415h6v1h-6zM381 414h6v1h-6zM387 413h5v1h-5zM392 412h6v1h-6zM398 411h4v1h-4zM402 410h4v1h-4zM406 409h4v1h-4zM410 408h4v1h-4zM414 407h4v1h-4zM418 406h4v1h-4zM422 405h4v1h-4zM426 404h4v1h-4zM430 403h4v1h-4zM434 402h4v1h-4zM438 401h6v1h-6zM444 400h6v1h-6zM450 399h6v1h-6zM456 398h6v1h-6zM462 397h7v1h-7zM469 396h6v1h-6zM475 395h6v1h-6zM481 394h6v1h-6zM487 393h8v1h-8zM495 392h8v1h-8zM503 391h8v1h-8zM511 390h9v1h-9zM520 389h8v1h-8zM528 388h8v1h-8zM536 387h9v1h-9zM545 386h8v1h-8zM553 385h8v1h-8zM561 384h9v1h-9zM570 383h8v1h-8zM578 382h8v1h-8zM586 381h8v1h-8zM594 380h7v1h-7zM601 379h7v1h-7zM608 378h7v1h-7zM615 377h8v1h-8zM623 376h7v1h-7zM630 375h7v1h-7zM637 374h8v1h-8zM645 373h8v1h-8zM653 372h8v1h-8zM661 371h9v1h-9zM670 370h8v1h-8zM678 369h8v1h-8zM686 368h8v1h-8zM694 367h8v1h-8zM702 366h8v1h-8zM710 365h8v1h-8zM718 364h8v1h-8zM726 363h11v1h-11zM737 362h12v1h-12zM1029 362h49v1h-49zM749 361h13v1h-13zM1016 361h13v1h-13zM1078 361h60v1h-60zM762 360h12v1h-12zM1006 360h10v1h-10zM774 359h11v1h-11zM998 359h8v1h-8zM785 358h10v1h-10zM987 358h11v1h-11zM795 357h10v1h-10zM974 357h13v1h-13zM805 356h10v1h-10zM962 356h12v1h-12zM815 355h10v1h-10zM949 355h13v1h-13zM825 354h18v1h-18zM937 354h12v1h-12zM843 353h25v1h-25zM905 353h32v1h-32zM868 352h37v1h-37z" fill="#b366ff"/>
<path d="M112 414h2v1h-2zM1051 414h4v1h-4zM114 413h4v1h-4zM1047 413h4v1h-4zM118 412h3v1h-3zM1044 412h3v1h-3zM121 411h4v1h-4zM1040 411h4v1h-4zM125 410h3v1h-3zM1037 410h3v1h-3zM128 409h3v1h-3zM1035 409h2v1h-2zM131 408h4v1h-4zM1033 408h2v1h-2zM135 407h3v1h-3zM1031 407h2v1h-2zM138 406h4v1h-4zM1029 406h2v1h-2zM142 405h3v1h-3zM1027 405h2v1h-2zM145 404h4v1h-4zM1025 404h2v1h-2zM149 403h3v1h-3zM1022 403h3v1h-3zM152 402h4v1h-4zM1020 402h2v1h-2zM156 401h3v1h-3zM1018 401h2v1h-2zM159 400h3v1h-3zM1016 400h2v1h-2zM162 399h4v1h-4zM1014 399h2v1h-2zM166 398h3v1h-3zM1012 398h2v1h-2zM169 397h3v1h-3zM1010 397h2v1h-2zM172 396h4v1h-4zM1008 396h2v1h-2zM176 395h3v1h-3zM1006 395h2v1h-2zM179 394h3v1h-3zM1004 394h2v1h-2zM182 393h4v1h-4zM1002 393h2v1h-2zM186 392h3v1h-3zM1000 392h2v1h-2zM189 391h2v1h-2zM998 391h2v1h-2zM191 390h3v1h-3zM996 390h2v1h-2zM194 389h3v1h-3zM993 389h3v1h-3zM197 388h2v1h-2zM991 388h2v1h-2zM199 387h3v1h-3zM989 387h2v1h-2zM202 386h3v1h-3zM986 386h3v1h-3zM205 385h4v1h-4zM984 385h2v1h-2zM209 384h3v1h-3zM982 384h2v1h-2zM212 383h3v1h-3zM979 383h3v1h-3zM215 382h4v1h-4zM976 382h3v1h-3zM219 381h3v1h-3zM973 381h3v1h-3zM222 380h3v1h-3zM969 380h4v1h-4zM225 379h4v1h-4zM966 379h3v1h-3zM229 378h3v1h-3zM963 378h3v1h-3zM232 377h3v1h-3zM960 377h3v1h-3zM235 376h3v1h-3zM957 376h3v1h-3zM238 375h3v1h-3zM954 375h3v1h-3zM241 374h3v1h-3zM950 374h4v1h-4zM244 373h3v1h-3zM947 373h3v1h-3zM247 372h3v1h-3zM944 372h3v1h-3zM250 371h3v1h-3zM942 371h2v1h-2zM253 370h3v1h-3zM940 370h2v1h-2zM256 369h3v1h-3zM938 369h2v1h-2zM259 368h3v1h-3zM936 368h2v1h-2zM262 367h3v1h-3zM934 367h2v1h-2zM265 366h3v1h-3zM932 366h2v1h-2zM268 365h4v1h-4zM930 365h2v1h-2zM272 364h3v1h-3zM928 364h2v1h-2zM275 363h3v1h-3zM926 363h2v1h-2zM278 362h4v1h-4zM924 362h2v1h-2zM282 361h3v1h-3zM922 361h2v1h-2zM285 360h4v1h-4zM920 360h2v1h-2zM289 359h3v1h-3zM918 359h2v1h-2zM292 358h3v1h-3zM916 358h2v1h-2zM295 357h4v1h-4zM914 357h2v1h-2zM299 356h3v1h-3zM912 356h2v1h-2zM302 355h3v1h-3zM910 355h2v1h-2zM305 354h3v1h-3zM908 354h2v1h-2zM308 353h3v1h-3zM906 353h2v1h-2zM311 352h3v1h-3zM904 352h2v1h-2zM314 351h3v1h-3zM902 351h2v1h-2zM317 350h3v1h-3zM900 350h2v1h-2zM320 349h3v1h-3zM898 349h2v1h-2zM323 348h3v1h-3zM896 348h2v1h-2zM326 347h3v1h-3zM894 347h2v1h-2zM329 346h3v1h-3zM891 346h3v1h-3zM332 345h3v1h-3zM887 345h4v1h-4zM335 344h3v1h-3zM884 344h3v1h-3zM338 343h3v1h-3zM881 343h3v1h-3zM341 342h3v1h-3zM877 342h4v1h-4zM344 341h2v1h-2zM874 341h3v1h-3zM346 340h3v1h-3zM871 340h3v1h-3zM349 339h3v1h-3zM867 339h4v1h-4zM352 338h3v1h-3zM864 338h3v1h-3zM355 337h3v1h-3zM861 337h3v1h-3zM358 336h2v1h-2zM857 336h4v1h-4zM360 335h3v1h-3zM854 335h3v1h-3zM363 334h2v1h-2zM851 334h3v1h-3zM365 333h3v1h-3zM847 333h4v1h-4zM368 332h2v1h-2zM844 332h3v1h-3zM370 331h3v1h-3zM841 331h3v1h-3zM373 330h2v1h-2zM838 330h3v1h-3zM375 329h3v1h-3zM836 329h2v1h-2zM378 328h4v1h-4zM833 328h3v1h-3zM382 327h4v1h-4zM830 327h3v1h-3zM386 326h4v1h-4zM827 326h3v1h-3zM390 325h4v1h-4zM824 325h3v1h-3zM394 324h4v1h-4zM822 324h2v1h-2zM398 323h4v1h-4zM819 323h3v1h-3zM402 322h4v1h-4zM816 322h3v1h-3zM406 321h4v1h-4zM812 321h4v1h-4zM410 320h3v1h-3zM809 320h3v1h-3zM413 319h4v1h-4zM806 319h3v1h-3zM417 318h3v1h-3zM802 318h4v1h-4zM420 317h4v1h-4zM799 317h3v1h-3zM424 316h4v1h-4zM796 316h3v1h-3zM428 315h3v1h-3zM792 315h4v1h-4zM431 314h4v1h-4zM789 314h3v1h-3zM435 313h4v1h-4zM786 313h3v1h-3zM439 312h4v1h-4zM782 312h4v1h-4zM443 311h5v1h-5zM778 311h4v1h-4zM448 310h5v1h-5zM774 310h4v1h-4zM453 309h5v1h-5zM770 309h4v1h-4zM458 308h5v1h-5zM766 308h4v1h-4zM463 307h5v1h-5zM762 307h4v1h-4zM468 306h5v1h-5zM758 306h4v1h-4zM473 305h5v1h-5zM753 305h5v1h-5zM478 304h5v1h-5zM749 304h4v1h-4zM483 303h5v1h-5zM745 303h4v1h-4zM488 302h5v1h-5zM741 302h4v1h-4zM493 301h4v1h-4zM737 301h4v1h-4zM497 300h4v1h-4zM733 300h4v1h-4zM501 299h4v1h-4zM728 299h5v1h-5zM505 298h4v1h-4zM723 298h5v1h-5zM509 297h4v1h-4zM718 297h5v1h-5zM513 296h5v1h-5zM714 296h4v1h-4zM518 295h5v1h-5zM709 295h5v1h-5zM523 294h5v1h-5zM704 294h5v1h-5zM528 293h5v1h-5zM699 293h5v1h-5zM533 292h5v1h-5zM694 292h5v1h-5zM538 291h4v1h-4zM690 291h4v1h-4zM542 290h4v1h-4zM685 290h5v1h-5zM546 289h4v1h-4zM680 289h5v1h-5zM550 288h11v1h-11zM671 288h9v1h-9zM561 287h19v1h-19zM659 287h12v1h-12zM580 286h79v1h-79zM1055 415h5v1h-5zM1060 416h5v1h-5zM1065 417h6v1h-6zM1071 418h7v1h-7zM1078 419h6v1h-6zM1084 420h5v1h-5zM1089 421h5v1h-5zM1094 422h6v1h-6zM1100 423h7v1h-7zM1107 424h7v1h-7zM1114 425h8v1h-8zM1122 426h6v1h-6zM1128 427h6v1h-6zM1134 428h4v1h-4z" fill="#6666ff"/>
<rect x="112" y="310" width="1" height="27" fill="#000"/>
<rect x="110" y="310" width="5" height="1" fill="#000"/>
<rect x="110" y="336" width="5" height="1" fill="#000"/>
<rect x="111" y="327" width="3" height="4" fill="#ff0000"/>
<rect x="136" y="306" width="1" height="39" fill="#000"/>
<rect x="134" y="306" width="5" height="1" fill="#000"/>
<rect x="134" y="344" width="5" height="1" fill="#000"/>
<rect x="135" y="312" width="3" height="22" fill="#00ee00"/>
<rect x="161" y="303" width="1" height="21" fill="#000"/>
<rect x="159" y="303" width="5" height="1" fill="#000"/>
<rect x="159" y="323" width="5" height="1" fill="#000"/>
<rect x="160" y="309" width="3" height="8" fill="#ff0000"/>
<rect x="185" y="275" width="1" height="54" fill="#000"/>
<rect x="183" y="275" width="5" height="1" fill="#000"/>
<rect x="183" y="328" width="5" height="1" fill="#000"/>
<rect x="184" y="275" width="3" height="36" fill="#ff0000"/>
<rect x="209" y="268" width="1" height="51" fill="#000"/>
<rect x="207" y="268" width="5" height="1" fill="#000"/>
<rect x="207" y="318" width="5" height="1" fill="#000"/>
<rect x="208" y="274" width="3" height="36" fill="#00ee00"/>
<rect x="234" y="276" width="1" height="31" fill="#000"/>
<rect x="232" y="276" width="5" height="1" fill="#000"/>
<rect x="232" y="306" width="5" height="1" fill="#000"/>
<rect x="233" y="276" width="3" height="9" fill="#00ee00"/>
<rect x="258" y="252" width="1" height="23" fill="#000"/>
<rect x="256" y="252" width="5" height="1" fill="#000"/>
<rect x="256" y="274" width="5" height="1" fill="#000"/>
<rect x="257" y="262" width="3" height="7" fill="#00ee00"/>
<rect x="283" y="246" width="1" height="30" fill="#000"/>
<rect x="281" y="246" width="5" height="1" fill="#000"/>
<rect x="281" y="275" width="5" height="1" fill="#000"/>
<rect x="282" y="249" width="3" height="20" fill="#ff0000"/>
<rect x="307" y="258" width="1" height="29" fill="#000"/>
<rect x="305" y="258" width="5" height="1" fill="#000"/>
<rect x="305" y="286" width="5" height="1" fill="#000"/>
<rect x="306" y="261" width="3" height="17" fill="#00ee00"/>
<rect x="331" y="251" width="1" height="19" fill="#000"/>
<rect x="329" y="251" width="5" height="1" fill="#000"/>
<rect x="329" y="269" width="5" height="1" fill="#000"/>
<rect x="330" y="253" width="3" height="4" fill="#00ee00"/>
<rect x="356" y="228" width="1" height="29" fill="#000"/>
<rect x="354" y="228" width="5" height="1" fill="#000"/>
<rect x="354" y="256" width="5" height="1" fill="#000"/>
<rect x="355" y="243" width="3" height="7" fill="#ff0000"/>
<rect x="380" y="234" width="1" height="33" fill="#000"/>
<rect x="378" y="234" width="5" height="1" fill="#000"/>
<rect x="378" y="266" width="5" height="1" fill="#000"/>
<rect x="379" y="244" width="3" height="6" fill="#00ee00"/>
<rect x="405" y="234" width="1" height="44" fill="#000"/>
<rect x="403" y="234" width="5" height="1" fill="#000"/>
<rect x="403" y="277" width="5" height="1" fill="#000"/>
<rect x="404" y="234" width="3" height="44" fill="#ff0000"/>
<rect x="429" y="262" width="1" height="17" fill="#000"/>
<rect x="427" y="262" width="5" height="1" fill="#000"/>
<rect x="427" y="278" width="5" height="1" fill="#000"/>
<rect x="428" y="267" width="3" height="2" fill="#00ee00"/>
<rect x="454" y="265" width="1" height="48" fill="#000"/>
<rect x="452" y="265" width="5" height="1" fill="#000"/>
<rect x="452" y="312" width="5" height="1" fill="#000"/>
<rect x="453" y="271" width="3" height="15" fill="#ff0000"/>
<rect x="478" y="283" width="1" height="53" fill="#000"/>
<rect x="476" y="283" width="5" height="1" fill="#000"/>
<rect x="476" y="335" width="5" height="1" fill="#000"/>
<rect x="477" y="287" width="3" height="42" fill="#ff0000"/>
<rect x="502" y="307" width="1" height="51" fill="#000"/>
<rect x="500" y="307" width="5" height="1" fill="#000"/>
<rect x="500" y="357" width="5" height="1" fill="#000"/>
<rect x="501" y="313" width="3" height="17" fill="#ff0000"/>
<rect x="527" y="296" width="1" height="33" fill="#000"/>
<rect x="525" y="296" width="5" height="1" fill="#000"/>
<rect x="525" y="328" width="5" height="1" fill="#000"/>
<rect x="526" y="299" width="3" height="29" fill="#00ee00"/>
<rect x="551" y="283" width="1" height="25" fill="#000"/>
<rect x="549" y="283" width="5" height="1" fill="#000"/>
<rect x="549" y="307" width="5" height="1" fill="#000"/>
<rect x="550" y="285" width="3" height="13" fill="#ff0000"/>
<rect x="576" y="296" width="1" height="32" fill="#000"/>
<rect x="574" y="296" width="5" height="1" fill="#000"/>
<rect x="574" y="327" width="5" height="1" fill="#000"/>
<rect x="575" y="302" width="3" height="10" fill="#00ee00"/>
<rect x="600" y="295" width="1" height="29" fill="#000"/>
<rect x="598" y="295" width="5" height="1" fill="#000"/>
<rect x="598" y="323" width="5" height="1" fill="#000"/>
<rect x="599" y="297" width="3" height="16" fill="#ff0000"/>
<rect x="625" y="297" width="1" height="24" fill="#000"/>
<rect x="623" y="297" width="5" height="1" fill="#000"/>
<rect x="623" y="320" width="5" height="1" fill="#000"/>
<rect x="624" y="309" width="3" height="8" fill="#ff0000"/>
<rect x="649" y="314" width="1" height="36" fill="#000"/>
<rect x="647" y="314" width="5" height="1" fill="#000"/>
<rect x="647" y="349" width="5" height="1" fill="#000"/>
<rect x="648" y="319" width="3" height="3" fill="#ff0000"/>
<rect x="673" y="306" width="1" height="37" fill="#000"/>
<rect x="671" y="306" width="5" height="1" fill="#000"/>
<rect x="671" y="342" width="5" height="1" fill="#000"/>
<rect x="672" y="308" width="3" height="33" fill="#ff0000"/>
<rect x="698" y="343" width="1" height="48" fill="#000"/>
<rect x="696" y="343" width="5" height="1" fill="#000"/>
<rect x="696" y="390" width="5" height="1" fill="#000"/>
<rect x="697" y="344" width="3" height="37" fill="#ff0000"/>
<rect x="722" y="355" width="1" height="30" fill="#000"/>
<rect x="720" y="355" width="5" height="1" fill="#000"/>
<rect x="720" y="384" width="5" height="1" fill="#000"/>
<rect x="721" y="361" width="3" height="11" fill="#00ee00"/>
<rect x="747" y="346" width="1" height="25" fill="#000"/>
<rect x="745" y="346" width="5" height="1" fill="#000"/>
<rect x="745" y="370" width="5" height="1" fill="#000"/>
<rect x="746" y="355" width="3" height="14" fill="#ff0000"/>
<rect x="771" y="362" width="1" height="43" fill="#000"/>
<rect x="769" y="362" width="5" height="1" fill="#000"/>
<rect x="769" y="404" width="5" height="1" fill="#000"/>
<rect x="770" y="362" width="3" height="28" fill="#ff0000"/>
<rect x="795" y="390" width="1" height="30" fill="#000"/>
<rect x="793" y="390" width="5" height="1" fill="#000"/>
<rect x="793" y="419" width="5" height="1" fill="#000"/>
<rect x="794" y="400" width="3" height="3" fill="#ff0000"/>
<rect x="820" y="370" width="1" height="33" fill="#000"/>
<rect x="818" y="370" width="5" height="1" fill="#000"/>
<rect x="818" y="402" width="5" height="1" fill="#000"/>
<rect x="819" y="386" width="3" height="7" fill="#00ee00"/>
<rect x="844" y="382" width="1" height="54" fill="#000"/>
<rect x="842" y="382" width="5" height="1" fill="#000"/>
<rect x="842" y="435" width="5" height="1" fill="#000"/>
<rect x="843" y="382" width="3" height="49" fill="#ff0000"/>
<rect x="869" y="391" width="1" height="40" fill="#000"/>
<rect x="867" y="391" width="5" height="1" fill="#000"/>
<rect x="867" y="430" width="5" height="1" fill="#000"/>
<rect x="868" y="395" width="3" height="25" fill="#00ee00"/>
<rect x="893" y="389" width="1" height="31" fill="#000"/>
<rect x="891" y="389" width="5" height="1" fill="#000"/>
<rect x="891" y="419" width="5" height="1" fill="#000"/>
<rect x="892" y="389" width="3" height="21" fill="#ff0000"/>
<rect x="918" y="424" width="1" height="87" fill="#000"/>
<rect x="916" y="424" width="5" height="1" fill="#000"/>
<rect x="916" y="510" width="5" height="1" fill="#000"/>
<rect x="917" y="424" width="3" height="83" fill="#ff0000"/>
<rect x="942" y="495" width="1" height="23" fill="#000"/>
<rect x="940" y="495" width="5" height="1" fill="#000"/>
<rect x="940" y="517" width="5" height="1" fill="#000"/>
<rect x="941" y="509" width="3" height="4" fill="#ff0000"/>
<rect x="966" y="496" width="1" height="20" fill="#000"/>
<rect x="964" y="496" width="5" height="1" fill="#000"/>
<rect x="964" y="515" width="5" height="1" fill="#000"/>
<rect x="965" y="502" width="3" height="12" fill="#00ee00"/>
<rect x="991" y="499" width="1" height="45" fill="#000"/>
<rect x="989" y="499" width="5" height="1" fill="#000"/>
<rect x="989" y="543" width="5" height="1" fill="#000"/>
<rect x="990" y="499" width="3" height="37" fill="#ff0000"/>
<rect x="1015" y="518" width="1" height="36" fill="#000"/>
<rect x="1013" y="518" width="5" height="1" fill="#000"/>
<rect x="1013" y="553" width="5" height="1" fill="#000"/>
<rect x="1014" y="520" width="3" height="20" fill="#00ee00"/>
<rect x="1040" y="502" width="1" height="33" fill="#000"/>
<rect x="1038" y="502" width="5" height="1" fill="#000"/>
<rect x="1038" y="534" width="5" height="1" fill="#000"/>
<rect x="1039" y="520" width="3" height="5" fill="#ff0000"/>
<rect x="1064" y="352" width="1" height="204" fill="#000"/>
<rect x="1062" y="352" width="5" height="1" fill="#000"/>
<rect x="1062" y="555" width="5" height="1" fill="#000"/>
<rect x="1063" y="411" width="3" height="113" fill="#00ee00"/>
<rect x="1088" y="350" width="1" height="72" fill="#000"/>
<rect x="1086" y="350" width="5" height="1" fill="#000"/>
<rect x="1086" y="421" width="5" height="1" fill="#000"/>
<rect x="1087" y="381" width="3" height="40" fill="#00ee00"/>
<rect x="1113" y="377" width="1" height="45" fill="#000"/>
<rect x="1111" y="377" width="5" height="1" fill="#000"/>
<rect x="1111" y="421" width="5" height="1" fill="#000"/>
<rect x="1112" y="386" width="3" height="33" fill="#ff0000"/>
<rect x="1137" y="392" width="1" height="42" fill="#000"/>
<rect x="1135" y="392" width="5" height="1" fill="#000"/>
<rect x="1135" y="433" width="5" height="1" fill="#000"/>
<rect x="1136" y="396" width="3" height="28" fill="#00ee00"/>
<rect x="100" y="53" width="1" height="548" fill="#333333"/>
<rect x="99" y="54" width="3" height="2" fill="#000"/>
<rect x="98" y="56" width="5" height="2" fill="#000"/>
<rect x="97" y="58" width="7" height="2" fill="#000"/>
<rect x="100" y="53" width="1" height="1" fill="#000"/>
<rect x="98" y="600" width="1065" height="1" fill="#000"/>
<rect x="1155" y="597" width="2" height="7" fill="#000"/>
<rect x="1157" y="598" width="2" height="5" fill="#000"/>
<rect x="1159" y="599" width="2" height="3" fill="#000"/>
<rect x="98" y="65" width="5" height="1" fill="#000"/>
<rect x="98" y="109" width="5" height="1" fill="#000"/>
<rect x="98" y="154" width="5" height="1" fill="#000"/>
<rect x="98" y="198" width="5" height="1" fill="#000"/>
<rect x="98" y="243" width="5" height="1" fill="#000"/>
<rect x="98" y="287" width="5" height="1" fill="#000"/>
<rect x="98" y="332" width="5" height="1" fill="#000"/>
<rect x="98" y="377" width="5" height="1" fill="#000"/>
<rect x="98" y="421" width="5" height="1" fill="#000"/>
<rect x="98" y="466" width="5" height="1" fill="#000"/>
<rect x="98" y="510" width="5" height="1" fill="#000"/>
<rect x="98" y="555" width="5" height="1" fill="#000"/>
<rect x="98" y="600" width="5" height="1" fill="#000"/>
<rect x="98" y="87" width="3" height="1" fill="#ff0000"/>
<rect x="98" y="131" width="3" height="1" fill="#ff0000"/>
<rect x="98" y="176" width="3" height="1" fill="#ff0000"/>
<rect x="98" y="221" width="3" height="1" fill="#ff0000"/>
<rect x="98" y="265" width="3" height="1" fill="#ff0000"/>
<rect x="98" y="310" width="3" height="1" fill="#ff0000"/>
<rect x="98" y="354" width="3" height="1" fill="#ff0000"/>
<rect x="98" y="399" width="3" height="1" fill="#ff0000"/>
<rect x="98" y="443" width="3" height="1" fill="#ff0000"/>
<rect x="98" y="488" width="3" height="1" fill="#ff0000"/>
<rect x="98" y="533" width="3" height="1" fill="#ff0000"/>
<rect x="98" y="577" width="3" height="1" fill="#ff0000"/>
<rect x="112" y="598" width="1" height="5" fill="#000"/>
<rect x="136" y="601" width="1" height="2" fill="#dddddd"/>
<rect x="161" y="601" width="1" height="2" fill="#dddddd"/>
<rect x="185" y="601" width="1" height="2" fill="#dddddd"/>
<rect x="209" y="601" width="1" height="2" fill="#dddddd"/>
<rect x="234" y="598" width="1" height="5" fill="#000"/>
<rect x="258" y="601" width="1" height="2" fill="#dddddd"/>
<rect x="283" y="601" width="1" height="2" fill="#dddddd"/>
<rect x="307" y="601" width="1" height="2" fill="#dddddd"/>
<rect x="331" y="601" width="1" height="2" fill="#dddddd"/>
<rect x="356" y="598" width="1" height="5" fill="#000"/>
<rect x="380" y="601" width="1" height="2" fill="#dddddd"/>
<rect x="405" y="601" width="1" height="2" fill="#dddddd"/>
<rect x="429" y="601" width="1" height="2" fill="#dddddd"/>
<rect x="454" y="601" width="1" height="2" fill="#dddddd"/>
<rect x="478" y="598" width="1" height="5" fill="#000"/>
<rect x="502" y="601" width="1" height="2" fill="#dddddd"/>
<rect x="527" y="601" width="1" height="2" fill="#dddddd"/>
<rect x="551" y="601" width="1" height="2" fill="#dddddd"/>
<rect x="576" y="601" width="1" height="2" fill="#dddddd"/>
<rect x="600" y="598" width="1" height="5" fill="#000"/>
<rect x="625" y="601" width="1" height="2" fill="#dddddd"/>
<rect x="649" y="601" width="1" height="2" fill="#dddddd"/>
<rect x="673" y="601" width="1" height="2" fill="#dddddd"/>
<rect x="698" y="601" width="1" height="2" fill="#dddddd"/>
<rect x="722" y="598" width="1" height="5" fill="#000"/>
<rect x="747" y="601" width="1" height="2" fill="#dddddd"/>
<rect x="771" y="601" width="1" height="2" fill="#dddddd"/>
<rect x="795" y="601" width="1" height="2" fill="#dddddd"/>
<rect x="820" y="601" width="1" height="2" fill="#dddddd"/>
<rect x="844" y="598" width="1" height="5" fill="#000"/>
<rect x="869" y="601" width="1" height="2" fill="#dddddd"/>
<rect x="893" y="601" width="1" height="2" fill="#dddddd"/>
<rect x="918" y="601" width="1" height="2" fill="#dddddd"/>
<rect x="942" y="601" width="1" height="2" fill="#dddddd"/>
<rect x="966" y="598" width="1" height="5" fill="#000"/>
<rect x="991" y="601" width="1" height="2" fill="#dddddd"/>
<rect x="1015" y="601" width="1" height="2" fill="#dddddd"/>
<rect x="1040" y="601" width="1" height="2" fill="#dddddd"/>
<rect x="1064" y="601" width="1" height="2" fill="#dddddd"/>
<rect x="1088" y="598" width="1" height="5" fill="#000"/>
<rect x="1113" y="601" width="1" height="2" fill="#dddddd"/>
<rect x="1137" y="601" width="1" height="2" fill="#dddddd"/>
<rect x="551" y="51" width="6" height="6" fill="#cccccc"/>
<rect x="550" y="50" width="6" height="6" fill="#cc5c5c"/>
<text x="560.12" y="56" font-size="11.6" textLength="55.51" lengthAdjust="spacingAndGlyphs">Support 1</text>
<rect x="620" y="51" width="6" height="6" fill="#cccccc"/>
<rect x="619" y="50" width="6" height="6" fill="#b86262"/>
<text x="629.12" y="56" font-size="11.6" textLength="55.83" lengthAdjust="spacingAndGlyphs">Support 2</text>
<rect x="689" y="51" width="6" height="6" fill="#cccccc"/>
<rect x="688" y="50" width="6" height="6" fill="#a36a6a"/>
<text x="698.12" y="56" font-size="11.6" textLength="55.65" lengthAdjust="spacingAndGlyphs">Support 3</text>
<rect x="758" y="51" width="6" height="6" fill="#cccccc"/>
<rect x="757" y="50" width="6" height="6" fill="#66cc66"/>
<text x="766.8" y="57.5" font-size="11.6" textLength="70.8" lengthAdjust="spacingAndGlyphs">Résistance 1</text>
<rect x="843" y="51" width="6" height="6" fill="#cccccc"/>
<rect x="842" y="50" width="6" height="6" fill="#66b066"/>
<text x="851.77" y="57.5" font-size="11.6" textLength="72.36" lengthAdjust="spacingAndGlyphs">Résistance 2</text>
<rect x="928" y="51" width="6" height="6" fill="#cccccc"/>
<rect x="927" y="50" width="6" height="6" fill="#669966"/>
<text x="936.78" y="57.5" font-size="11.6" textLength="72.07" lengthAdjust="spacingAndGlyphs">Résistance 3</text>
<rect x="1013" y="51" width="6" height="6" fill="#cccccc"/>
<rect x="1012" y="50" width="6" height="6" fill="#6666ff"/>
<text x="1021.56" y="56" font-size="11.6" textLength="31.99" lengthAdjust="spacingAndGlyphs">MM20</text>
<rect x="1058" y="51" width="6" height="6" fill="#cccccc"/>
<rect x="1057" y="50" width="6" height="6" fill="#b366ff"/>
<text x="1066.56" y="56" font-size="11.6" textLength="31.99" lengthAdjust="spacingAndGlyphs">MM50</text>
<rect x="1103" y="51" width="6" height="6" fill="#cccccc"/>
<rect x="1102" y="50" width="6" height="6" fill="#ff66ff"/>
<text x="1111.54" y="56" font-size="11.6" textLength="38.91" lengthAdjust="spacingAndGlyphs">MM100</text>
<text x="111.36" y="35" font-size="26.2" textLength="57.02" lengthAdjust="spacingAndGlyphs">SES:</text>
<text x="176.17" y="35" font-size="26.2" textLength="119.52" lengthAdjust="spacingAndGlyphs">graphique</text>
<text x="303.33" y="35" font-size="26.2" textLength="31.02" lengthAdjust="spacingAndGlyphs">du</text>
<text x="341.85" y="35" font-size="26.2" textLength="66.02" lengthAdjust="spacingAndGlyphs">cours</text>
<text x="416.4" y="35" font-size="26.2" textLength="10.5" lengthAdjust="spacingAndGlyphs">-</text>
<text x="435.25" y="35" font-size="26.2" textLength="207.8" lengthAdjust="spacingAndGlyphs">AnalyBourse.com</text>
<text x="67.07" y="70" font-size="11.6" textLength="31.63" lengthAdjust="spacingAndGlyphs">24.50</text>
<text x="67.07" y="114" font-size="11.6" textLength="31.63" lengthAdjust="spacingAndGlyphs">24.00</text>
<text x="67.07" y="159" font-size="11.6" textLength="31.63" lengthAdjust="spacingAndGlyphs">23.50</text>
<text x="67.07" y="203" font-size="11.6" textLength="31.63" lengthAdjust="spacingAndGlyphs">23.00</text>
<text x="67.07" y="248" font-size="11.6" textLength="31.63" lengthAdjust="spacingAndGlyphs">22.50</text>
<text x="67.07" y="292" font-size="11.6" textLength="31.63" lengthAdjust="spacingAndGlyphs">22.00</text>
<text x="67.07" y="337" font-size="11.6" textLength="31.63" lengthAdjust="spacingAndGlyphs">21.50</text>
<text x="67.07" y="382" font-size="11.6" textLength="31.63" lengthAdjust="spacingAndGlyphs">21.00</text>
<text x="67.07" y="426" font-size="11.6" textLength="31.63" lengthAdjust="spacingAndGlyphs">20.50</text>
<text x="67.07" y="471" font-size="11.6" textLength="31.63" lengthAdjust="spacingAndGlyphs">20.00</text>
<text x="67.15" y="515" font-size="11.6" textLength="31.54" lengthAdjust="spacingAndGlyphs">19.50</text>
<text x="67.15" y="560" font-size="11.6" textLength="31.54" lengthAdjust="spacingAndGlyphs">19.00</text>
<text x="67.15" y="605" font-size="11.6" textLength="31.54" lengthAdjust="spacingAndGlyphs">18.50</text>
<text x="95.19" y="613" font-size="11.6" textLength="36.9" lengthAdjust="spacingAndGlyphs">5 Sept</text>
<text x="212.71" y="613" font-size="11.6" textLength="44.58" lengthAdjust="spacingAndGlyphs">12 Sept</text>
<text x="334.31" y="613" font-size="11.6" textLength="44.99" lengthAdjust="spacingAndGlyphs">19 Sept</text>
<text x="456.85" y="613" font-size="11.6" textLength="44.49" lengthAdjust="spacingAndGlyphs">26 Sept</text>
<text x="587.22" y="613" font-size="11.6" textLength="29.97" lengthAdjust="spacingAndGlyphs">3 Oct</text>
<text x="704.84" y="613" font-size="11.6" textLength="37.15" lengthAdjust="spacingAndGlyphs">10 Oct</text>
<text x="826.53" y="613" font-size="11.6" textLength="37.36" lengthAdjust="spacingAndGlyphs">17 Oct</text>
<text x="949.07" y="613" font-size="11.6" textLength="36.72" lengthAdjust="spacingAndGlyphs">24 Oct</text>
<text x="1071.32" y="613" font-size="11.6" textLength="36.77" lengthAdjust="spacingAndGlyphs">31 Oct</text>
<text x="481.69" y="627" font-size="11.6" textLength="289.12" lengthAdjust="spacingAndGlyphs">Date (du 5 Septembre 2016 au 2 Novembre 2016)</text>
<g transform="translate(62,366) rotate(-90)">
<text x="-0.65" y="0" font-size="11.6" textLength="73.45" lengthAdjust="spacingAndGlyphs">Cours (Euro)</text>
</g>
<rect x="102" y="725" width="1049" height="43" fill="#f8f8f8"/>
<rect x="102" y="812" width="1049" height="44" fill="#f8f8f8"/>
<line x1="112.5" y1="725" x2="112.5" y2="900" stroke="#dddddd" stroke-dasharray="4 4" stroke-dashoffset="1" shape-rendering="crispEdges"/>
<line x1="136.5" y1="725" x2="136.5" y2="900" stroke="#f3f3f3" stroke-dasharray="6 6" stroke-dashoffset="1" shape-rendering="crispEdges"/>
<line x1="161.5" y1="725" x2="161.5" y2="900" stroke="#f3f3f3" stroke-dasharray="6 6" stroke-dashoffset="1" shape-rendering="crispEdges"/>
<line x1="185.5" y1="725" x2="185.5" y2="900" stroke="#f3f3f3" stroke-dasharray="6 6" stroke-dashoffset="1" shape-rendering="crispEdges"/>
<line x1="209.5" y1="725" x2="209.5" y2="900" stroke="#f3f3f3" stroke-dasharray="6 6" stroke-dashoffset="1" shape-rendering="crispEdges"/>
<line x1="234.5" y1="725" x2="234.5" y2="900" stroke="#dddddd" stroke-dasharray="4 4" stroke-dashoffset="1" shape-rendering="crispEdges"/>
<line x1="258.5" y1="725" x2="258.5" y2="900" stroke="#f3f3f3" stroke-dasharray="6 6" stroke-dashoffset="1" shape-rendering="crispEdges"/>
<line x1="283.5" y1="725" x2="283.5" y2="900" stroke="#f3f3f3" stroke-dasharray="6 6" stroke-dashoffset="1" shape-rendering="crispEdges"/>
<line x1="307.5" y1="725" x2="307.5" y2="900" stroke="#f3f3f3" stroke-dasharray="6 6" stroke-dashoffset="1" shape-rendering="crispEdges"/>
<line x1="331.5" y1="725" x2="331.5" y2="900" stroke="#f3f3f3" stroke-dasharray="6 6" stroke-dashoffset="1" shape-rendering="crispEdges"/>
<line x1="356.5" y1="725" x2="356.5" y2="900" stroke="#dddddd" stroke-dasharray="4 4" stroke-dashoffset="1" shape-rendering="crispEdges"/>
<line x1="380.5" y1="725" x2="380.5" y2="900" stroke="#f3f3f3" stroke-dasharray="6 6" stroke-dashoffset="1" shape-rendering="crispEdges"/>
<line x1="405.5" y1="725" x2="405.5" y2="900" stroke="#f3f3f3" stroke-dasharray="6 6" stroke-dashoffset="1" shape-rendering="crispEdges"/>
<line x1="429.5" y1="725" x2="429.5" y2="900" stroke="#f3f3f3" stroke-dasharray="6 6" stroke-dashoffset="1" shape-rendering="crispEdges"/>
<line x1="454.5" y1="725" x2="454.5" y2="900" stroke="#f3f3f3" stroke-dasharray="6 6" stroke-dashoffset="1" shape-rendering="crispEdges"/>
<line x1="478.5" y1="725" x2="478.5" y2="900" stroke="#dddddd" stroke-dasharray="4 4" stroke-dashoffset="1" shape-rendering="crispEdges"/>
<line x1="502.5" y1="725" x2="502.5" y2="900" stroke="#f3f3f3" stroke-dasharray="6 6" stroke-dashoffset="1" shape-rendering="crispEdges"/>
<line x1="527.5" y1="725" x2="527.5" y2="900" stroke="#f3f3f3" stroke-dasharray="6 6" stroke-dashoffset="1" shape-rendering="crispEdges"/>
<line x1="551.5" y1="725" x2="551.5" y2="900" stroke="#f3f3f3" stroke-dasharray="6 6" stroke-dashoffset="1" shape-rendering="crispEdges"/>
<line x1="576.5" y1="725" x2="576.5" y2="900" stroke="#f3f3f3" stroke-dasharray="6 6" stroke-dashoffset="1" shape-rendering="crispEdges"/>
<line x1="600.5" y1="725" x2="600.5" y2="900" stroke="#dddddd" stroke-dasharray="4 4" stroke-dashoffset="1" shape-rendering="crispEdges"/>
<line x1="625.5" y1="725" x2="625.5" y2="900" stroke="#f3f3f3" stroke-dasharray="6 6" stroke-dashoffset="1" shape-rendering="crispEdges"/>
<line x1="649.5" y1="725" x2="649.5" y2="900" stroke="#f3f3f3" stroke-dasharray="6 6" stroke-dashoffset="1" shape-rendering="crispEdges"/>
<line x1="673.5" y1="725" x2="673.5" y2="900" stroke="#f3f3f3" stroke-dasharray="6 6" stroke-dashoffset="1" shape-rendering="crispEdges"/>
<line x1="698.5" y1="725" x2="698.5" y2="900" stroke="#f3f3f3" stroke-dasharray="6 6" stroke-dashoffset="1" shape-rendering="crispEdges"/>
<line x1="722.5" y1="725" x2="722.5" y2="900" stroke="#dddddd" stroke-dasharray="4 4" stroke-dashoffset="1" shape-rendering="crispEdges"/>
<line x1="747.5" y1="725" x2="747.5" y2="900" stroke="#f3f3f3" stroke-dasharray="6 6" stroke-dashoffset="1" shape-rendering="crispEdges"/>
<line x1="771.5" y1="725" x2="771.5" y2="900" stroke="#f3f3f3" stroke-dasharray="6 6" stroke-dashoffset="1" shape-rendering="crispEdges"/>
<line x1="795.5" y1="725" x2="795.5" y2="900" stroke="#f3f3f3" stroke-dasharray="6 6" stroke-dashoffset="1" shape-rendering="crispEdges"/>
<line x1="820.5" y1="725" x2="820.5" y2="900" stroke="#f3f3f3" stroke-dasharray="6 6" stroke-dashoffset="1" shape-rendering="crispEdges"/>
<line x1="844.5" y1="725" x2="844.5" y2="900" stroke="#dddddd" stroke-dasharray="4 4" stroke-dashoffset="1" shape-rendering="crispEdges"/>
<line x1="869.5" y1="725" x2="869.5" y2="900" stroke="#f3f3f3" stroke-dasharray="6 6" stroke-dashoffset="1" shape-rendering="crispEdges"/>
<line x1="893.5" y1="725" x2="893.5" y2="900" stroke="#f3f3f3" stroke-dasharray="6 6" stroke-dashoffset="1" shape-rendering="crispEdges"/>
<line x1="918.5" y1="725" x2="918.5" y2="900" stroke="#f3f3f3" stroke-dasharray="6 6" stroke-dashoffset="1" shape-rendering="crispEdges"/>
<line x1="942.5" y1="725" x2="942.5" y2="900" stroke="#f3f3f3" stroke-dasharray="6 6" stroke-dashoffset="1" shape-rendering="crispEdges"/>
<line x1="966.5" y1="725" x2="966.5" y2="900" stroke="#dddddd" stroke-dasharray="4 4" stroke-dashoffset="1" shape-rendering="crispEdges"/>
<line x1="991.5" y1="725" x2="991.5" y2="900" stroke="#f3f3f3" stroke-dasharray="6 6" stroke-dashoffset="1" shape-rendering="crispEdges"/>
<line x1="1015.5" y1="725" x2="1015.5" y2="900" stroke="#f3f3f3" stroke-dasharray="6 6" stroke-dashoffset="1" shape-rendering="crispEdges"/>
<line x1="1040.5" y1="725" x2="1040.5" y2="900" stroke="#f3f3f3" stroke-dasharray="6 6" stroke-dashoffset="1" shape-rendering="crispEdges"/>
<line x1="1064.5" y1="725" x2="1064.5" y2="900" stroke="#f3f3f3" stroke-dasharray="6 6" stroke-dashoffset="1" shape-rendering="crispEdges"/>
<line x1="1088.5" y1="725" x2="1088.5" y2="900" stroke="#dddddd" stroke-dasharray="4 4" stroke-dashoffset="1" shape-rendering="crispEdges"/>
<line x1="1113.5" y1="725" x2="1113.5" y2="900" stroke="#f3f3f3" stroke-dasharray="6 6" stroke-dashoffset="1" shape-rendering="crispEdges"/>
<line x1="1137.5" y1="725" x2="1137.5" y2="900" stroke="#f3f3f3" stroke-dasharray="6 6" stroke-dashoffset="1" shape-rendering="crispEdges"/>
<line x1="102" y1="725.5" x2="1151" y2="725.5" stroke="#dddddd" stroke-dasharray="4 4" stroke-dashoffset="3" shape-rendering="crispEdges"/>
<line x1="102" y1="768.5" x2="1151" y2="768.5" stroke="#dddddd" stroke-dasharray="4 4" stroke-dashoffset="3" shape-rendering="crispEdges"/>
<line x1="102" y1="812.5" x2="1151" y2="812.5" stroke="#dddddd" stroke-dasharray="4 4" stroke-dashoffset="3" shape-rendering="crispEdges"/>
<line x1="102" y1="856.5" x2="1151" y2="856.5" stroke="#dddddd" stroke-dasharray="4 4" stroke-dashoffset="3" shape-rendering="crispEdges"/>
<rect x="104" y="848" width="17" height="52" fill="#ff0000" fill-opacity="0.65"/>
<rect x="128" y="831" width="17" height="69" fill="#00ff00" fill-opacity="0.65"/>
<rect x="153" y="843" width="17" height="57" fill="#ff0000" fill-opacity="0.65"/>
<rect x="177" y="832" width="17" height="68" fill="#ff0000" fill-opacity="0.65"/>
<rect x="201" y="831" width="17" height="69" fill="#00ff00" fill-opacity="0.65"/>
<rect x="226" y="841" width="17" height="59" fill="#00ff00" fill-opacity="0.65"/>
<rect x="250" y="847" width="17" height="53" fill="#00ff00" fill-opacity="0.65"/>
<rect x="275" y="832" width="17" height="68" fill="#ff0000" fill-opacity="0.65"/>
<rect x="299" y="851" width="17" height="49" fill="#00ff00" fill-opacity="0.65"/>
<rect x="323" y="812" width="17" height="88" fill="#00ff00" fill-opacity="0.65"/>
<rect x="348" y="859" width="17" height="41" fill="#ff0000" fill-opacity="0.65"/>
<rect x="372" y="837" width="17" height="63" fill="#00ff00" fill-opacity="0.65"/>
<rect x="397" y="837" width="17" height="63" fill="#ff0000" fill-opacity="0.65"/>
<rect x="421" y="841" width="17" height="59" fill="#00ff00" fill-opacity="0.65"/>
<rect x="446" y="837" width="17" height="63" fill="#ff0000" fill-opacity="0.65"/>
<rect x="470" y="841" width="17" height="59" fill="#ff0000" fill-opacity="0.65"/>
<rect x="494" y="863" width="17" height="37" fill="#ff0000" fill-opacity="0.65"/>
<rect x="519" y="858" width="17" height="42" fill="#00ff00" fill-opacity="0.65"/>
<rect x="543" y="867" width="17" height="33" fill="#ff0000" fill-opacity="0.65"/>
<rect x="568" y="845" width="17" height="55" fill="#00ff00" fill-opacity="0.65"/>
<rect x="592" y="872" width="17" height="28" fill="#ff0000" fill-opacity="0.65"/>
<rect x="617" y="861" width="17" height="39" fill="#ff0000" fill-opacity="0.65"/>
<rect x="641" y="854" width="17" height="46" fill="#ff0000" fill-opacity="0.65"/>
<rect x="665" y="832" width="17" height="68" fill="#ff0000" fill-opacity="0.65"/>
<rect x="690" y="835" width="17" height="65" fill="#ff0000" fill-opacity="0.65"/>
<rect x="714" y="872" width="17" height="28" fill="#00ff00" fill-opacity="0.65"/>
<rect x="739" y="871" width="17" height="29" fill="#ff0000" fill-opacity="0.65"/>
<rect x="763" y="838" width="17" height="62" fill="#ff0000" fill-opacity="0.65"/>
<rect x="787" y="847" width="17" height="53" fill="#00ff00" fill-opacity="0.65"/>
<rect x="812" y="862" width="17" height="38" fill="#00ff00" fill-opacity="0.65"/>
<rect x="836" y="850" width="17" height="50" fill="#ff0000" fill-opacity="0.65"/>
<rect x="861" y="839" width="17" height="61" fill="#00ff00" fill-opacity="0.65"/>
<rect x="885" y="856" width="17" height="44" fill="#ff0000" fill-opacity="0.65"/>
<rect x="910" y="790" width="17" height="110" fill="#ff0000" fill-opacity="0.65"/>
<rect x="934" y="838" width="17" height="62" fill="#ff0000" fill-opacity="0.65"/>
<rect x="958" y="847" width="17" height="53" fill="#00ff00" fill-opacity="0.65"/>
<rect x="983" y="832" width="17" height="68" fill="#ff0000" fill-opacity="0.65"/>
<rect x="1007" y="859" width="17" height="41" fill="#00ff00" fill-opacity="0.65"/>
<rect x="1032" y="856" width="17" height="44" fill="#ff0000" fill-opacity="0.65"/>
<rect x="1056" y="729" width="17" height="171" fill="#00ff00" fill-opacity="0.65"/>
<rect x="1080" y="758" width="17" height="142" fill="#00ff00" fill-opacity="0.65"/>
<rect x="1105" y="833" width="17" height="67" fill="#ff0000" fill-opacity="0.65"/>
<rect x="1129" y="882" width="17" height="18" fill="#00ff00" fill-opacity="0.65"/>
<rect x="100" y="713" width="1" height="188" fill="#333333"/>
<rect x="99" y="714" width="3" height="2" fill="#000"/>
<rect x="98" y="716" width="5" height="2" fill="#000"/>
<rect x="97" y="718" width="7" height="2" fill="#000"/>
<rect x="100" y="713" width="1" height="1" fill="#000"/>
<rect x="98" y="900" width="1065" height="1" fill="#000"/>
<rect x="1155" y="897" width="2" height="7" fill="#000"/>
<rect x="1157" y="898" width="2" height="5" fill="#000"/>
<rect x="1159" y="899" width="2" height="3" fill="#000"/>
<rect x="98" y="725" width="5" height="1" fill="#000"/>
<rect x="98" y="768" width="5" height="1" fill="#000"/>
<rect x="98" y="812" width="5" height="1" fill="#000"/>
<rect x="98" y="856" width="5" height="1" fill="#000"/>
<rect x="98" y="900" width="5" height="1" fill="#000"/>
<rect x="98" y="746" width="3" height="1" fill="#ff0000"/>
<rect x="98" y="790" width="3" height="1" fill="#ff0000"/>
<rect x="98" y="834" width="3" height="1" fill="#ff0000"/>
<rect x="98" y="878" width="3" height="1" fill="#ff0000"/>
<rect x="112" y="898" width="1" height="5" fill="#000"/>
<rect x="136" y="901" width="1" height="2" fill="#dddddd"/>
<rect x="161" y="901" width="1" height="2" fill="#dddddd"/>
<rect x="185" y="901" width="1" height="2" fill="#dddddd"/>
<rect x="209" y="901" width="1" height="2" fill="#dddddd"/>
<rect x="234" y="898" width="1" height="5" fill="#000"/>
<rect x="258" y="901" width="1" height="2" fill="#dddddd"/>
<rect x="283" y="901" width="1" height="2" fill="#dddddd"/>
<rect x="307" y="901" width="1" height="2" fill="#dddddd"/>
<rect x="331" y="901" width="1" height="2" fill="#dddddd"/>
<rect x="356" y="898" width="1" height="5" fill="#000"/>
<rect x="380" y="901" width="1" height="2" fill="#dddddd"/>
<rect x="405" y="901" width="1" height="2" fill="#dddddd"/>
<rect x="429" y="901" width="1" height="2" fill="#dddddd"/>
<rect x="454" y="901" width="1" height="2" fill="#dddddd"/>
<rect x="478" y="898" width="1" height="5" fill="#000"/>
<rect x="502" y="901" width="1" height="2" fill="#dddddd"/>
<rect x="527" y="901" width="1" height="2" fill="#dddddd"/>
<rect x="551" y="901" width="1" height="2" fill="#dddddd"/>
<rect x="576" y="901" width="1" height="2" fill="#dddddd"/>
<rect x="600" y="898" width="1" height="5" fill="#000"/>
<rect x="625" y="901" width="1" height="2" fill="#dddddd"/>
<rect x="649" y="901" width="1" height="2" fill="#dddddd"/>
<rect x="673" y="901" width="1" height="2" fill="#dddddd"/>
<rect x="698" y="901" width="1" height="2" fill="#dddddd"/>
<rect x="722" y="898" width="1" height="5" fill="#000"/>
<rect x="747" y="901" width="1" height="2" fill="#dddddd"/>
<rect x="771" y="901" width="1" height="2" fill="#dddddd"/>
<rect x="795" y="901" width="1" height="2" fill="#dddddd"/>
<rect x="820" y="901" width="1" height="2" fill="#dddddd"/>
<rect x="844" y="898" width="1" height="5" fill="#000"/>
<rect x="869" y="901" width="1" height="2" fill="#dddddd"/>
<rect x="893" y="901" width="1" height="2" fill="#dddddd"/>
<rect x="918" y="901" width="1" height="2" fill="#dddddd"/>
<rect x="942" y="901" width="1" height="2" fill="#dddddd"/>
<rect x="966" y="898" width="1" height="5" fill="#000"/>
<rect x="991" y="901" width="1" height="2" fill="#dddddd"/>
<rect x="1015" y="901" width="1" height="2" fill="#dddddd"/>
<rect x="1040" y="901" width="1" height="2" fill="#dddddd"/>
<rect x="1064" y="901" width="1" height="2" fill="#dddddd"/>
<rect x="1088" y="898" width="1" height="5" fill="#000"/>
<rect x="1113" y="901" width="1" height="2" fill="#dddddd"/>
<rect x="1137" y="901" width="1" height="2" fill="#dddddd"/>
<text x="111.36" y="695" font-size="26.2" textLength="57.02" lengthAdjust="spacingAndGlyphs">SES:</text>
<text x="176.17" y="695" font-size="26.2" textLength="119.52" lengthAdjust="spacingAndGlyphs">graphique</text>
<text x="303.33" y="695" font-size="26.2" textLength="31.02" lengthAdjust="spacingAndGlyphs">du</text>
<text x="343.41" y="695" font-size="26.2" textLength="85.77" lengthAdjust="spacingAndGlyphs">volume</text>
<text x="437.83" y="695" font-size="26.2" textLength="10.23" lengthAdjust="spacingAndGlyphs">-</text>
<text x="455.95" y="695" font-size="26.2" textLength="207.8" lengthAdjust="spacingAndGlyphs">AnalyBourse.com</text>
<text x="24.11" y="728.5" font-size="11.6" textLength="74.59" lengthAdjust="spacingAndGlyphs">2,000,000.00</text>
<text x="23.77" y="771.5" font-size="11.6" textLength="74.93" lengthAdjust="spacingAndGlyphs">1,500,000.00</text>
<text x="23.77" y="815.5" font-size="11.6" textLength="74.93" lengthAdjust="spacingAndGlyphs">1,000,000.00</text>
<text x="35.49" y="859.5" font-size="11.6" textLength="63.2" lengthAdjust="spacingAndGlyphs">500,000.00</text>
<text x="74.25" y="905" font-size="11.6" textLength="24.44" lengthAdjust="spacingAndGlyphs">0.00</text>
<text x="95.19" y="913" font-size="11.6" textLength="36.9" lengthAdjust="spacingAndGlyphs">5 Sept</text>
<text x="212.71" y="913" font-size="11.6" textLength="44.58" lengthAdjust="spacingAndGlyphs">12 Sept</text>
<text x="334.31" y="913" font-size="11.6" textLength="44.99" lengthAdjust="spacingAndGlyphs">19 Sept</text>
<text x="456.85" y="913" font-size="11.6" textLength="44.49" lengthAdjust="spacingAndGlyphs">26 Sept</text>
<text x="587.22" y="913" font-size="11.6" textLength="29.97" lengthAdjust="spacingAndGlyphs">3 Oct</text>
<text x="704.84" y="913" font-size="11.6" textLength="37.15" lengthAdjust="spacingAndGlyphs">10 Oct</text>
<text x="826.53" y="913" font-size="11.6" textLength="37.36" lengthAdjust="spacingAndGlyphs">17 Oct</text>
<text x="949.07" y="913" font-size="11.6" textLength="36.72" lengthAdjust="spacingAndGlyphs">24 Oct</text>
<text x="1071.32" y="913" font-size="11.6" textLength="36.77" lengthAdjust="spacingAndGlyphs">31 Oct</text>
<text x="481.69" y="927" font-size="11.6" textLength="289.12" lengthAdjust="spacingAndGlyphs">Date (du 5 Septembre 2016 au 2 Novembre 2016)</text>
<g transform="translate(22.5,831) rotate(-90)">
<text x="-0.06" y="0" font-size="11.6" textLength="42.61" lengthAdjust="spacingAndGlyphs">Volume</text>
</g>
<rect x="102" y="1060" width="1049" height="35" fill="#f8f8f8"/>
<rect x="102" y="1130" width="1049" height="35" fill="#f8f8f8"/>
<line x1="112.5" y1="1025" x2="112.5" y2="1200" stroke="#dddddd" stroke-dasharray="4 4" stroke-dashoffset="1" shape-rendering="crispEdges"/>
<line x1="136.5" y1="1025" x2="136.5" y2="1200" stroke="#f3f3f3" stroke-dasharray="6 6" stroke-dashoffset="1" shape-rendering="crispEdges"/>
<line x1="161.5" y1="1025" x2="161.5" y2="1200" stroke="#f3f3f3" stroke-dasharray="6 6" stroke-dashoffset="1" shape-rendering="crispEdges"/>
<line x1="185.5" y1="1025" x2="185.5" y2="1200" stroke="#f3f3f3" stroke-dasharray="6 6" stroke-dashoffset="1" shape-rendering="crispEdges"/>
<line x1="209.5" y1="1025" x2="209.5" y2="1200" stroke="#f3f3f3" stroke-dasharray="6 6" stroke-dashoffset="1" shape-rendering="crispEdges"/>
<line x1="234.5" y1="1025" x2="234.5" y2="1200" stroke="#dddddd" stroke-dasharray="4 4" stroke-dashoffset="1" shape-rendering="crispEdges"/>
<line x1="258.5" y1="1025" x2="258.5" y2="1200" stroke="#f3f3f3" stroke-dasharray="6 6" stroke-dashoffset="1" shape-rendering="crispEdges"/>
<line x1="283.5" y1="1025" x2="283.5" y2="1200" stroke="#f3f3f3" stroke-dasharray="6 6" stroke-dashoffset="1" shape-rendering="crispEdges"/>
<line x1="307.5" y1="1025" x2="307.5" y2="1200" stroke="#f3f3f3" stroke-dasharray="6 6" stroke-dashoffset="1" shape-rendering="crispEdges"/>
<line x1="331.5" y1="1025" x2="331.5" y2="1200" stroke="#f3f3f3" stroke-dasharray="6 6" stroke-dashoffset="1" shape-rendering="crispEdges"/>
<line x1="356.5" y1="1025" x2="356.5" y2="1200" stroke="#dddddd" stroke-dasharray="4 4" stroke-dashoffset="1" shape-rendering="crispEdges"/>
<line x1="380.5" y1="1025" x2="380.5" y2="1200" stroke="#f3f3f3" stroke-dasharray="6 6" stroke-dashoffset="1" shape-rendering="crispEdges"/>
<line x1="405.5" y1="1025" x2="405.5" y2="1200" stroke="#f3f3f3" stroke-dasharray="6 6" stroke-dashoffset="1" shape-rendering="crispEdges"/>
<line x1="429.5" y1="1025" x2="429.5" y2="1200" stroke="#f3f3f3" stroke-dasharray="6 6" stroke-dashoffset="1" shape-rendering="crispEdges"/>
<line x1="454.5" y1="1025" x2="454.5" y2="1200" stroke="#f3f3f3" stroke-dasharray="6 6" stroke-dashoffset="1" shape-rendering="crispEdges"/>
<line x1="478.5" y1="1025" x2="478.5" y2="1200" stroke="#dddddd" stroke-dasharray="4 4" stroke-dashoffset="1" shape-rendering="crispEdges"/>
<line x1="502.5" y1="1025" x2="502.5" y2="1200" stroke="#f3f3f3" stroke-dasharray="6 6" stroke-dashoffset="1" shape-rendering="crispEdges"/>
<line x1="527.5" y1="1025" x2="527.5" y2="1200" stroke="#f3f3f3" stroke-dasharray="6 6" stroke-dashoffset="1" shape-rendering="crispEdges"/>
<line x1="551.5" y1="1025" x2="551.5" y2="1200" stroke="#f3f3f3" stroke-dasharray="6 6" stroke-dashoffset="1" shape-rendering="crispEdges"/>
<line x1="576.5" y1="1025" x2="576.5" y2="1200" stroke="#f3f3f3" stroke-dasharray="6 6" stroke-dashoffset="1" shape-rendering="crispEdges"/>
<line x1="600.5" y1="1025" x2="600.5" y2="1200" stroke="#dddddd" stroke-dasharray="4 4" stroke-dashoffset="1" shape-rendering="crispEdges"/>
<line x1="625.5" y1="1025" x2="625.5" y2="1200" stroke="#f3f3f3" stroke-dasharray="6 6" stroke-dashoffset="1" shape-rendering="crispEdges"/>
<line x1="649.5" y1="1025" x2="649.5" y2="1200" stroke="#f3f3f3" stroke-dasharray="6 6" stroke-dashoffset="1" shape-rendering="crispEdges"/>
<line x1="673.5" y1="1025" x2="673.5" y2="1200" stroke="#f3f3f3" stroke-dasharray="6 6" stroke-dashoffset="1" shape-rendering="crispEdges"/>
<line x1="698.5" y1="1025" x2="698.5" y2="1200" stroke="#f3f3f3" stroke-dasharray="6 6" stroke-dashoffset="1" shape-rendering="crispEdges"/>
<line x1="722.5" y1="1025" x2="722.5" y2="1200" stroke="#dddddd" stroke-dasharray="4 4" stroke-dashoffset="1" shape-rendering="crispEdges"/>
<line x1="747.5" y1="1025" x2="747.5" y2="1200" stroke="#f3f3f3" stroke-dasharray="6 6" stroke-dashoffset="1" shape-rendering="crispEdges"/>
<line x1="771.5" y1="1025" x2="771.5" y2="1200" stroke="#f3f3f3" stroke-dasharray="6 6" stroke-dashoffset="1" shape-rendering="crispEdges"/>
<line x1="795.5" y1="1025" x2="795.5" y2="1200" stroke="#f3f3f3" stroke-dasharray="6 6" stroke-dashoffset="1" shape-rendering="crispEdges"/>
<line x1="820.5" y1="1025" x2="820.5" y2="1200" stroke="#f3f3f3" stroke-dasharray="6 6" stroke-dashoffset="1" shape-rendering="crispEdges"/>
<line x1="844.5" y1="1025" x2="844.5" y2="1200" stroke="#dddddd" stroke-dasharray="4 4" stroke-dashoffset="1" shape-rendering="crispEdges"/>
<line x1="869.5" y1="1025" x2="869.5" y2="1200" stroke="#f3f3f3" stroke-dasharray="6 6" stroke-dashoffset="1" shape-rendering="crispEdges"/>
<line x1="893.5" y1="1025" x2="893.5" y2="1200" stroke="#f3f3f3" stroke-dasharray="6 6" stroke-dashoffset="1" shape-rendering="crispEdges"/>
<line x1="918.5" y1="1025" x2="918.5" y2="1200" stroke="#f3f3f3" stroke-dasharray="6 6" stroke-dashoffset="1" shape-rendering="crispEdges"/>
<line x1="942.5" y1="1025" x2="942.5" y2="1200" stroke="#f3f3f3" stroke-dasharray="6 6" stroke-dashoffset="1" shape-rendering="crispEdges"/>
<line x1="966.5" y1="1025" x2="966.5" y2="1200" stroke="#dddddd" stroke-dasharray="4 4" stroke-dashoffset="1" shape-rendering="crispEdges"/>
<line x1="991.5" y1="1025" x2="991.5" y2="1200" stroke="#f3f3f3" stroke-dasharray="6 6" stroke-dashoffset="1" shape-rendering="crispEdges"/>
<line x1="1015.5" y1="1025" x2="1015.5" y2="1200" stroke="#f3f3f3" stroke-dasharray="6 6" stroke-dashoffset="1" shape-rendering="crispEdges"/>
<line x1="1040.5" y1="1025" x2="1040.5" y2="1200" stroke="#f3f3f3" stroke-dasharray="6 6" stroke-dashoffset="1" shape-rendering="crispEdges"/>
<line x1="1064.5" y1="1025" x2="1064.5" y2="1200" stroke="#f3f3f3" stroke-dasharray="6 6" stroke-dashoffset="1" shape-rendering="crispEdges"/>
<line x1="1088.5" y1="1025" x2="1088.5" y2="1200" stroke="#dddddd" stroke-dasharray="4 4" stroke-dashoffset="1" shape-rendering="crispEdges"/>
<line x1="1113.5" y1="1025" x2="1113.5" y2="1200" stroke="#f3f3f3" stroke-dasharray="6 6" stroke-dashoffset="1" shape-rendering="crispEdges"/>
<line x1="1137.5" y1="1025" x2="1137.5" y2="1200" stroke="#f3f3f3" stroke-dasharray="6 6" stroke-dashoffset="1" shape-rendering="crispEdges"/>
<line x1="102" y1="1025.5" x2="1151" y2="1025.5" stroke="#dddddd" stroke-dasharray="4 4" stroke-dashoffset="3" shape-rendering="crispEdges"/>
<line x1="102" y1="1060.5" x2="1151" y2="1060.5" stroke="#dddddd" stroke-dasharray="4 4" stroke-dashoffset="3" shape-rendering="crispEdges"/>
<line x1="102" y1="1095.5" x2="1151" y2="1095.5" stroke="#dddddd" stroke-dasharray="4 4" stroke-dashoffset="3" shape-rendering="crispEdges"/>
<line x1="102" y1="1130.5" x2="1151" y2="1130.5" stroke="#dddddd" stroke-dasharray="4 4" stroke-dashoffset="3" shape-rendering="crispEdges"/>
<line x1="102" y1="1165.5" x2="1151" y2="1165.5" stroke="#dddddd" stroke-dasharray="4 4" stroke-dashoffset="3" shape-rendering="crispEdges"/>
<rect x="112" y="1112" width="1026" height="1" fill="#7a7a7a"/>
<path d="M112 1062h3v1h-3zM163 1062h10v1h-10zM390 1062h1v1h-1zM115 1061h5v1h-5zM152 1061h11v1h-11zM173 1061h5v1h-5zM389 1061h1v1h-1zM120 1060h7v1h-7zM148 1060h4v1h-4zM178 1060h10v1h-10zM389 1060h1v1h-1zM127 1059h21v1h-21zM188 1059h3v1h-3zM388 1059h1v1h-1zM191 1058h3v1h-3zM280 1058h15v1h-15zM388 1058h1v1h-1zM194 1057h4v1h-4zM276 1057h4v1h-4zM295 1057h6v1h-6zM387 1057h1v1h-1zM198 1056h5v1h-5zM272 1056h4v1h-4zM301 1056h10v1h-10zM385 1056h2v1h-2zM203 1055h4v1h-4zM228 1055h11v1h-11zM268 1055h4v1h-4zM311 1055h38v1h-38zM384 1055h1v1h-1zM207 1054h2v1h-2zM223 1054h5v1h-5zM239 1054h9v1h-9zM263 1054h5v1h-5zM349 1054h9v1h-9zM382 1054h2v1h-2zM209 1053h14v1h-14zM248 1053h15v1h-15zM358 1053h9v1h-9zM377 1053h5v1h-5zM367 1052h10v1h-10zM390 1063h1v1h-1zM391 1064h1v1h-1zM392 1065h1v1h-1zM392 1066h1v1h-1zM393 1067h1v1h-1zM393 1068h1v1h-1zM394 1069h1v1h-1zM394 1070h1v1h-1zM395 1071h1v1h-1zM396 1072h1v1h-1zM397 1073h1v1h-1zM398 1074h1v1h-1zM399 1075h1v1h-1zM400 1076h1v1h-1zM400 1077h1v1h-1zM401 1078h1v1h-1zM425 1078h6v1h-6zM402 1079h1v1h-1zM418 1079h7v1h-7zM431 1079h4v1h-4zM403 1080h1v1h-1zM414 1080h4v1h-4zM435 1080h3v1h-3zM404 1081h10v1h-10zM438 1081h2v1h-2zM440 1082h2v1h-2zM442 1083h2v1h-2zM444 1084h2v1h-2zM446 1085h2v1h-2zM448 1086h1v1h-1zM449 1087h2v1h-2zM451 1088h1v1h-1zM452 1089h2v1h-2zM454 1090h1v1h-1zM455 1091h1v1h-1zM456 1092h1v1h-1zM457 1093h1v1h-1zM458 1094h1v1h-1zM459 1095h1v1h-1zM460 1096h1v1h-1zM461 1097h1v1h-1zM462 1098h1v1h-1zM463 1099h1v1h-1zM532 1099h17v1h-17zM464 1100h1v1h-1zM527 1100h5v1h-5zM549 1100h18v1h-18zM465 1101h1v1h-1zM523 1101h4v1h-4zM567 1101h6v1h-6zM466 1102h1v1h-1zM521 1102h2v1h-2zM573 1102h6v1h-6zM466 1103h1v1h-1zM519 1103h2v1h-2zM579 1103h5v1h-5zM467 1104h1v1h-1zM517 1104h2v1h-2zM584 1104h4v1h-4zM1083 1104h7v1h-7zM468 1105h1v1h-1zM515 1105h2v1h-2zM588 1105h3v1h-3zM1076 1105h7v1h-7zM1090 1105h5v1h-5zM469 1106h1v1h-1zM513 1106h2v1h-2zM591 1106h4v1h-4zM1072 1106h4v1h-4zM1095 1106h2v1h-2zM470 1107h1v1h-1zM512 1107h1v1h-1zM595 1107h3v1h-3zM1070 1107h2v1h-2zM1097 1107h2v1h-2zM471 1108h2v1h-2zM511 1108h1v1h-1zM598 1108h7v1h-7zM1068 1108h2v1h-2zM1099 1108h2v1h-2zM1136 1108h2v1h-2zM473 1109h1v1h-1zM509 1109h2v1h-2zM605 1109h13v1h-13zM1066 1109h2v1h-2zM1101 1109h2v1h-2zM1133 1109h3v1h-3zM474 1110h2v1h-2zM508 1110h1v1h-1zM618 1110h22v1h-22zM1064 1110h2v1h-2zM1103 1110h2v1h-2zM1130 1110h3v1h-3zM476 1111h1v1h-1zM506 1111h2v1h-2zM640 1111h6v1h-6zM1063 1111h1v1h-1zM1105 1111h2v1h-2zM1127 1111h3v1h-3zM477 1112h2v1h-2zM504 1112h2v1h-2zM646 1112h5v1h-5zM1062 1112h1v1h-1zM1107 1112h2v1h-2zM1123 1112h4v1h-4zM479 1113h2v1h-2zM502 1113h2v1h-2zM651 1113h3v1h-3zM1062 1113h1v1h-1zM1109 1113h3v1h-3zM1117 1113h6v1h-6zM481 1114h3v1h-3zM498 1114h4v1h-4zM654 1114h3v1h-3zM1061 1114h1v1h-1zM1112 1114h5v1h-5zM484 1115h14v1h-14zM657 1115h3v1h-3zM1060 1115h1v1h-1zM660 1116h2v1h-2zM1060 1116h1v1h-1zM662 1117h2v1h-2zM1059 1117h1v1h-1zM664 1118h2v1h-2zM1058 1118h1v1h-1zM666 1119h2v1h-2zM1057 1119h1v1h-1zM668 1120h2v1h-2zM1057 1120h1v1h-1zM670 1121h2v1h-2zM1056 1121h1v1h-1zM672 1122h2v1h-2zM1056 1122h1v1h-1zM674 1123h1v1h-1zM1055 1123h1v1h-1zM675 1124h2v1h-2zM1055 1124h1v1h-1zM677 1125h1v1h-1zM1054 1125h1v1h-1zM678 1126h1v1h-1zM725 1126h8v1h-8zM1054 1126h1v1h-1zM679 1127h2v1h-2zM719 1127h6v1h-6zM733 1127h5v1h-5zM873 1127h5v1h-5zM1053 1127h1v1h-1zM681 1128h1v1h-1zM717 1128h2v1h-2zM738 1128h5v1h-5zM868 1128h5v1h-5zM878 1128h5v1h-5zM1053 1128h1v1h-1zM682 1129h2v1h-2zM715 1129h2v1h-2zM743 1129h6v1h-6zM865 1129h3v1h-3zM883 1129h4v1h-4zM1052 1129h1v1h-1zM684 1130h1v1h-1zM713 1130h2v1h-2zM749 1130h5v1h-5zM864 1130h1v1h-1zM887 1130h3v1h-3zM1052 1130h1v1h-1zM685 1131h2v1h-2zM711 1131h2v1h-2zM754 1131h2v1h-2zM863 1131h1v1h-1zM890 1131h3v1h-3zM1051 1131h1v1h-1zM687 1132h2v1h-2zM710 1132h1v1h-1zM756 1132h3v1h-3zM818 1132h3v1h-3zM862 1132h1v1h-1zM893 1132h2v1h-2zM1051 1132h1v1h-1zM689 1133h2v1h-2zM709 1133h1v1h-1zM759 1133h3v1h-3zM815 1133h3v1h-3zM821 1133h2v1h-2zM861 1133h1v1h-1zM895 1133h1v1h-1zM1050 1133h1v1h-1zM691 1134h2v1h-2zM707 1134h2v1h-2zM762 1134h2v1h-2zM811 1134h4v1h-4zM823 1134h3v1h-3zM860 1134h1v1h-1zM896 1134h1v1h-1zM1050 1134h1v1h-1zM693 1135h2v1h-2zM706 1135h1v1h-1zM764 1135h3v1h-3zM808 1135h3v1h-3zM826 1135h2v1h-2zM859 1135h1v1h-1zM897 1135h1v1h-1zM1049 1135h1v1h-1zM695 1136h2v1h-2zM701 1136h5v1h-5zM767 1136h3v1h-3zM805 1136h3v1h-3zM828 1136h1v1h-1zM858 1136h1v1h-1zM898 1136h1v1h-1zM1049 1136h1v1h-1zM697 1137h4v1h-4zM770 1137h3v1h-3zM803 1137h2v1h-2zM829 1137h2v1h-2zM857 1137h1v1h-1zM899 1137h1v1h-1zM1048 1137h1v1h-1zM773 1138h3v1h-3zM800 1138h3v1h-3zM831 1138h1v1h-1zM856 1138h1v1h-1zM900 1138h1v1h-1zM1048 1138h1v1h-1zM776 1139h5v1h-5zM798 1139h2v1h-2zM832 1139h1v1h-1zM855 1139h1v1h-1zM901 1139h1v1h-1zM1047 1139h1v1h-1zM781 1140h17v1h-17zM833 1140h2v1h-2zM854 1140h1v1h-1zM902 1140h1v1h-1zM1047 1140h1v1h-1zM835 1141h2v1h-2zM853 1141h1v1h-1zM903 1141h1v1h-1zM1046 1141h1v1h-1zM837 1142h2v1h-2zM851 1142h2v1h-2zM904 1142h1v1h-1zM1046 1142h1v1h-1zM839 1143h2v1h-2zM848 1143h3v1h-3zM905 1143h1v1h-1zM1045 1143h1v1h-1zM841 1144h2v1h-2zM846 1144h2v1h-2zM906 1144h1v1h-1zM1044 1144h1v1h-1zM843 1145h3v1h-3zM907 1145h2v1h-2zM1042 1145h2v1h-2zM909 1146h1v1h-1zM1041 1146h1v1h-1zM910 1147h1v1h-1zM1040 1147h1v1h-1zM911 1148h1v1h-1zM1011 1148h14v1h-14zM1037 1148h3v1h-3zM912 1149h2v1h-2zM963 1149h8v1h-8zM1007 1149h4v1h-4zM1025 1149h4v1h-4zM1033 1149h4v1h-4zM914 1150h3v1h-3zM956 1150h7v1h-7zM971 1150h6v1h-6zM1005 1150h2v1h-2zM1029 1150h4v1h-4zM917 1151h2v1h-2zM951 1151h5v1h-5zM977 1151h2v1h-2zM1003 1151h2v1h-2zM919 1152h3v1h-3zM945 1152h6v1h-6zM979 1152h3v1h-3zM1001 1152h2v1h-2zM922 1153h7v1h-7zM939 1153h6v1h-6zM982 1153h3v1h-3zM997 1153h4v1h-4zM929 1154h10v1h-10zM985 1154h12v1h-12z" fill="#ff2a2a"/>
<rect x="100" y="1013" width="1" height="188" fill="#333333"/>
<rect x="99" y="1014" width="3" height="2" fill="#000"/>
<rect x="98" y="1016" width="5" height="2" fill="#000"/>
<rect x="97" y="1018" width="7" height="2" fill="#000"/>
<rect x="100" y="1013" width="1" height="1" fill="#000"/>
<rect x="98" y="1200" width="1065" height="1" fill="#000"/>
<rect x="1155" y="1197" width="2" height="7" fill="#000"/>
<rect x="1157" y="1198" width="2" height="5" fill="#000"/>
<rect x="1159" y="1199" width="2" height="3" fill="#000"/>
<rect x="98" y="1025" width="5" height="1" fill="#000"/>
<rect x="98" y="1060" width="5" height="1" fill="#000"/>
<rect x="98" y="1095" width="5" height="1" fill="#000"/>
<rect x="98" y="1130" width="5" height="1" fill="#000"/>
<rect x="98" y="1165" width="5" height="1" fill="#000"/>
<rect x="98" y="1200" width="5" height="1" fill="#000"/>
<rect x="98" y="1042" width="3" height="1" fill="#ff0000"/>
<rect x="98" y="1077" width="3" height="1" fill="#ff0000"/>
<rect x="98" y="1112" width="3" height="1" fill="#ff0000"/>
<rect x="98" y="1147" width="3" height="1" fill="#ff0000"/>
<rect x="98" y="1182" width="3" height="1" fill="#ff0000"/>
<rect x="112" y="1198" width="1" height="5" fill="#000"/>
<rect x="136" y="1201" width="1" height="2" fill="#dddddd"/>
<rect x="161" y="1201" width="1" height="2" fill="#dddddd"/>
<rect x="185" y="1201" width="1" height="2" fill="#dddddd"/>
<rect x="209" y="1201" width="1" height="2" fill="#dddddd"/>
<rect x="234" y="1198" width="1" height="5" fill="#000"/>
<rect x="258" y="1201" width="1" height="2" fill="#dddddd"/>
<rect x="283" y="1201" width="1" height="2" fill="#dddddd"/>
<rect x="307" y="1201" width="1" height="2" fill="#dddddd"/>
<rect x="331" y="1201" width="1" height="2" fill="#dddddd"/>
<rect x="356" y="1198" width="1" height="5" fill="#000"/>
<rect x="380" y="1201" width="1" height="2" fill="#dddddd"/>
<rect x="405" y="1201" width="1" height="2" fill="#dddddd"/>
<rect x="429" y="1201" width="1" height="2" fill="#dddddd"/>
<rect x="454" y="1201" width="1" height="2" fill="#dddddd"/>
<rect x="478" y="1198" width="1" height="5" fill="#000"/>
<rect x="502" y="1201" width="1" height="2" fill="#dddddd"/>
<rect x="527" y="1201" width="1" height="2" fill="#dddddd"/>
<rect x="551" y="1201" width="1" height="2" fill="#dddddd"/>
<rect x="576" y="1201" width="1" height="2" fill="#dddddd"/>
<rect x="600" y="1198" width="1" height="5" fill="#000"/>
<rect x="625" y="1201" width="1" height="2" fill="#dddddd"/>
<rect x="649" y="1201" width="1" height="2" fill="#dddddd"/>
<rect x="673" y="1201" width="1" height="2" fill="#dddddd"/>
<rect x="698" y="1201" width="1" height="2" fill="#dddddd"/>
<rect x="722" y="1198" width="1" height="5" fill="#000"/>
<rect x="747" y="1201" width="1" height="2" fill="#dddddd"/>
<rect x="771" y="1201" width="1" height="2" fill="#dddddd"/>
<rect x="795" y="1201" width="1" height="2" fill="#dddddd"/>
<rect x="820" y="1201" width="1" height="2" fill="#dddddd"/>
<rect x="844" y="1198" width="1" height="5" fill="#000"/>
<rect x="869" y="1201" width="1" height="2" fill="#dddddd"/>
<rect x="893" y="1201" width="1" height="2" fill="#dddddd"/>
<rect x="918" y="1201" width="1" height="2" fill="#dddddd"/>
<rect x="942" y="1201" width="1" height="2" fill="#dddddd"/>
<rect x="966" y="1198" width="1" height="5" fill="#000"/>
<rect x="991" y="1201" width="1" height="2" fill="#dddddd"/>
<rect x="1015" y="1201" width="1" height="2" fill="#dddddd"/>
<rect x="1040" y="1201" width="1" height="2" fill="#dddddd"/>
<rect x="1064" y="1201" width="1" height="2" fill="#dddddd"/>
<rect x="1088" y="1198" width="1" height="5" fill="#000"/>
<rect x="1113" y="1201" width="1" height="2" fill="#dddddd"/>
<rect x="1137" y="1201" width="1" height="2" fill="#dddddd"/>
<text x="111.36" y="995" font-size="26.2" textLength="57.02" lengthAdjust="spacingAndGlyphs">SES:</text>
<text x="176.17" y="995" font-size="26.2" textLength="119.52" lengthAdjust="spacingAndGlyphs">graphique</text>
<text x="303.33" y="995" font-size="26.2" textLength="31.02" lengthAdjust="spacingAndGlyphs">du</text>
<text x="341.21" y="995" font-size="26.2" textLength="44.56" lengthAdjust="spacingAndGlyphs">RSI</text>
<text x="393.51" y="995" font-size="26.2" textLength="9.68" lengthAdjust="spacingAndGlyphs">-</text>
<text x="411.32" y="995" font-size="26.2" textLength="95.7" lengthAdjust="spacingAndGlyphs">RSI(14)</text>
<text x="514.6" y="995" font-size="26.2" textLength="10.5" lengthAdjust="spacingAndGlyphs">-</text>
<text x="534.45" y="995" font-size="26.2" textLength="207.3" lengthAdjust="spacingAndGlyphs">AnalyBourse.com</text>
<text x="59.73" y="1030" font-size="11.6" textLength="38.97" lengthAdjust="spacingAndGlyphs">100.00</text>
<text x="67.09" y="1065" font-size="11.6" textLength="31.6" lengthAdjust="spacingAndGlyphs">80.00</text>
<text x="67.02" y="1100" font-size="11.6" textLength="31.67" lengthAdjust="spacingAndGlyphs">60.00</text>
<text x="67.14" y="1135" font-size="11.6" textLength="31.55" lengthAdjust="spacingAndGlyphs">40.00</text>
<text x="67.07" y="1170" font-size="11.6" textLength="31.63" lengthAdjust="spacingAndGlyphs">20.00</text>
<text x="74.25" y="1205" font-size="11.6" textLength="24.44" lengthAdjust="spacingAndGlyphs">0.00</text>
<text x="95.19" y="1213" font-size="11.6" textLength="36.9" lengthAdjust="spacingAndGlyphs">5 Sept</text>
<text x="212.71" y="1213" font-size="11.6" textLength="44.58" lengthAdjust="spacingAndGlyphs">12 Sept</text>
<text x="334.31" y="1213" font-size="11.6" textLength="44.99" lengthAdjust="spacingAndGlyphs">19 Sept</text>
<text x="456.85" y="1213" font-size="11.6" textLength="44.49" lengthAdjust="spacingAndGlyphs">26 Sept</text>
<text x="587.22" y="1213" font-size="11.6" textLength="29.97" lengthAdjust="spacingAndGlyphs">3 Oct</text>
<text x="704.84" y="1213" font-size="11.6" textLength="37.15" lengthAdjust="spacingAndGlyphs">10 Oct</text>
<text x="826.53" y="1213" font-size="11.6" textLength="37.36" lengthAdjust="spacingAndGlyphs">17 Oct</text>
<text x="949.07" y="1213" font-size="11.6" textLength="36.72" lengthAdjust="spacingAndGlyphs">24 Oct</text>
<text x="1071.32" y="1213" font-size="11.6" textLength="36.77" lengthAdjust="spacingAndGlyphs">31 Oct</text>
<text x="481.69" y="1227" font-size="11.6" textLength="289.12" lengthAdjust="spacingAndGlyphs">Date (du 5 Septembre 2016 au 2 Novembre 2016)</text>
<g transform="translate(58,1120) rotate(-90)">
<text x="-1.04" y="0" font-size="11.6" textLength="21.22" lengthAdjust="spacingAndGlyphs">RSI</text>
</g>
<rect x="102" y="1325" width="1049" height="21" fill="#f8f8f8"/>
<rect x="102" y="1368" width="1049" height="22" fill="#f8f8f8"/>
<rect x="102" y="1412" width="1049" height="22" fill="#f8f8f8"/>
<rect x="102" y="1456" width="1049" height="22" fill="#f8f8f8"/>
<line x1="112.5" y1="1325" x2="112.5" y2="1500" stroke="#dddddd" stroke-dasharray="4 4" stroke-dashoffset="1" shape-rendering="crispEdges"/>
<line x1="136.5" y1="1325" x2="136.5" y2="1500" stroke="#f3f3f3" stroke-dasharray="6 6" stroke-dashoffset="1" shape-rendering="crispEdges"/>
<line x1="161.5" y1="1325" x2="161.5" y2="1500" stroke="#f3f3f3" stroke-dasharray="6 6" stroke-dashoffset="1" shape-rendering="crispEdges"/>
<line x1="185.5" y1="1325" x2="185.5" y2="1500" stroke="#f3f3f3" stroke-dasharray="6 6" stroke-dashoffset="1" shape-rendering="crispEdges"/>
<line x1="209.5" y1="1325" x2="209.5" y2="1500" stroke="#f3f3f3" stroke-dasharray="6 6" stroke-dashoffset="1" shape-rendering="crispEdges"/>
<line x1="234.5" y1="1325" x2="234.5" y2="1500" stroke="#dddddd" stroke-dasharray="4 4" stroke-dashoffset="1" shape-rendering="crispEdges"/>
<line x1="258.5" y1="1325" x2="258.5" y2="1500" stroke="#f3f3f3" stroke-dasharray="6 6" stroke-dashoffset="1" shape-rendering="crispEdges"/>
<line x1="283.5" y1="1325" x2="283.5" y2="1500" stroke="#f3f3f3" stroke-dasharray="6 6" stroke-dashoffset="1" shape-rendering="crispEdges"/>
<line x1="307.5" y1="1325" x2="307.5" y2="1500" stroke="#f3f3f3" stroke-dasharray="6 6" stroke-dashoffset="1" shape-rendering="crispEdges"/>
<line x1="331.5" y1="1325" x2="331.5" y2="1500" stroke="#f3f3f3" stroke-dasharray="6 6" stroke-dashoffset="1" shape-rendering="crispEdges"/>
<line x1="356.5" y1="1325" x2="356.5" y2="1500" stroke="#dddddd" stroke-dasharray="4 4" stroke-dashoffset="1" shape-rendering="crispEdges"/>
<line x1="380.5" y1="1325" x2="380.5" y2="1500" stroke="#f3f3f3" stroke-dasharray="6 6" stroke-dashoffset="1" shape-rendering="crispEdges"/>
<line x1="405.5" y1="1325" x2="405.5" y2="1500" stroke="#f3f3f3" stroke-dasharray="6 6" stroke-dashoffset="1" shape-rendering="crispEdges"/>
<line x1="429.5" y1="1325" x2="429.5" y2="1500" stroke="#f3f3f3" stroke-dasharray="6 6" stroke-dashoffset="1" shape-rendering="crispEdges"/>
<line x1="454.5" y1="1325" x2="454.5" y2="1500" stroke="#f3f3f3" stroke-dasharray="6 6" stroke-dashoffset="1" shape-rendering="crispEdges"/>
<line x1="478.5" y1="1325" x2="478.5" y2="1500" stroke="#dddddd" stroke-dasharray="4 4" stroke-dashoffset="1" shape-rendering="crispEdges"/>
<line x1="502.5" y1="1325" x2="502.5" y2="1500" stroke="#f3f3f3" stroke-dasharray="6 6" stroke-dashoffset="1" shape-rendering="crispEdges"/>
<line x1="527.5" y1="1325" x2="527.5" y2="1500" stroke="#f3f3f3" stroke-dasharray="6 6" stroke-dashoffset="1" shape-rendering="crispEdges"/>
<line x1="551.5" y1="1325" x2="551.5" y2="1500" stroke="#f3f3f3" stroke-dasharray="6 6" stroke-dashoffset="1" shape-rendering="crispEdges"/>
<line x1="576.5" y1="1325" x2="576.5" y2="1500" stroke="#f3f3f3" stroke-dasharray="6 6" stroke-dashoffset="1" shape-rendering="crispEdges"/>
<line x1="600.5" y1="1325" x2="600.5" y2="1500" stroke="#dddddd" stroke-dasharray="4 4" stroke-dashoffset="1" shape-rendering="crispEdges"/>
<line x1="625.5" y1="1325" x2="625.5" y2="1500" stroke="#f3f3f3" stroke-dasharray="6 6" stroke-dashoffset="1" shape-rendering="crispEdges"/>
<line x1="649.5" y1="1325" x2="649.5" y2="1500" stroke="#f3f3f3" stroke-dasharray="6 6" stroke-dashoffset="1" shape-rendering="crispEdges"/>
<line x1="673.5" y1="1325" x2="673.5" y2="1500" stroke="#f3f3f3" stroke-dasharray="6 6" stroke-dashoffset="1" shape-rendering="crispEdges"/>
<line x1="698.5" y1="1325" x2="698.5" y2="1500" stroke="#f3f3f3" stroke-dasharray="6 6" stroke-dashoffset="1" shape-rendering="crispEdges"/>
<line x1="722.5" y1="1325" x2="722.5" y2="1500" stroke="#dddddd" stroke-dasharray="4 4" stroke-dashoffset="1" shape-rendering="crispEdges"/>
<line x1="747.5" y1="1325" x2="747.5" y2="1500" stroke="#f3f3f3" stroke-dasharray="6 6" stroke-dashoffset="1" shape-rendering="crispEdges"/>
<line x1="771.5" y1="1325" x2="771.5" y2="1500" stroke="#f3f3f3" stroke-dasharray="6 6" stroke-dashoffset="1" shape-rendering="crispEdges"/>
<line x1="795.5" y1="1325" x2="795.5" y2="1500" stroke="#f3f3f3" stroke-dasharray="6 6" stroke-dashoffset="1" shape-rendering="crispEdges"/>
<line x1="820.5" y1="1325" x2="820.5" y2="1500" stroke="#f3f3f3" stroke-dasharray="6 6" stroke-dashoffset="1" shape-rendering="crispEdges"/>
<line x1="844.5" y1="1325" x2="844.5" y2="1500" stroke="#dddddd" stroke-dasharray="4 4" stroke-dashoffset="1" shape-rendering="crispEdges"/>
<line x1="869.5" y1="1325" x2="869.5" y2="1500" stroke="#f3f3f3" stroke-dasharray="6 6" stroke-dashoffset="1" shape-rendering="crispEdges"/>
<line x1="893.5" y1="1325" x2="893.5" y2="1500" stroke="#f3f3f3" stroke-dasharray="6 6" stroke-dashoffset="1" shape-rendering="crispEdges"/>
<line x1="918.5" y1="1325" x2="918.5" y2="1500" stroke="#f3f3f3" stroke-dasharray="6 6" stroke-dashoffset="1" shape-rendering="crispEdges"/>
<line x1="942.5" y1="1325" x2="942.5" y2="1500" stroke="#f3f3f3" stroke-dasharray="6 6" stroke-dashoffset="1" shape-rendering="crispEdges"/>
<line x1="966.5" y1="1325" x2="966.5" y2="1500" stroke="#dddddd" stroke-dasharray="4 4" stroke-dashoffset="1" shape-rendering="crispEdges"/>
<line x1="991.5" y1="1325" x2="991.5" y2="1500" stroke="#f3f3f3" stroke-dasharray="6 6" stroke-dashoffset="1" shape-rendering="crispEdges"/>
<line x1="1015.5" y1="1325" x2="1015.5" y2="1500" stroke="#f3f3f3" stroke-dasharray="6 6" stroke-dashoffset="1" shape-rendering="crispEdges"/>
<line x1="1040.5" y1="1325" x2="1040.5" y2="1500" stroke="#f3f3f3" stroke-dasharray="6 6" stroke-dashoffset="1" shape-rendering="crispEdges"/>
<line x1="1064.5" y1="1325" x2="1064.5" y2="1500" stroke="#f3f3f3" stroke-dasharray="6 6" stroke-dashoffset="1" shape-rendering="crispEdges"/>
<line x1="1088.5" y1="1325" x2="1088.5" y2="1500" stroke="#dddddd" stroke-dasharray="4 4" stroke-dashoffset="1" shape-rendering="crispEdges"/>
<line x1="1113.5" y1="1325" x2="1113.5" y2="1500" stroke="#f3f3f3" stroke-dasharray="6 6" stroke-dashoffset="1" shape-rendering="crispEdges"/>
<line x1="1137.5" y1="1325" x2="1137.5" y2="1500" stroke="#f3f3f3" stroke-dasharray="6 6" stroke-dashoffset="1" shape-rendering="crispEdges"/>
<line x1="102" y1="1325.5" x2="1151" y2="1325.5" stroke="#dddddd" stroke-dasharray="4 4" stroke-dashoffset="3" shape-rendering="crispEdges"/>
<line x1="102" y1="1346.5" x2="1151" y2="1346.5" stroke="#dddddd" stroke-dasharray="4 4" stroke-dashoffset="3" shape-rendering="crispEdges"/>
<line x1="102" y1="1368.5" x2="1151" y2="1368.5" stroke="#dddddd" stroke-dasharray="4 4" stroke-dashoffset="3" shape-rendering="crispEdges"/>
<line x1="102" y1="1390.5" x2="1151" y2="1390.5" stroke="#dddddd" stroke-dasharray="4 4" stroke-dashoffset="3" shape-rendering="crispEdges"/>
<line x1="102" y1="1412.5" x2="1151" y2="1412.5" stroke="#dddddd" stroke-dasharray="4 4" stroke-dashoffset="3" shape-rendering="crispEdges"/>
<line x1="102" y1="1434.5" x2="1151" y2="1434.5" stroke="#dddddd" stroke-dasharray="4 4" stroke-dashoffset="3" shape-rendering="crispEdges"/>
<line x1="102" y1="1456.5" x2="1151" y2="1456.5" stroke="#dddddd" stroke-dasharray="4 4" stroke-dashoffset="3" shape-rendering="crispEdges"/>
<line x1="102" y1="1478.5" x2="1151" y2="1478.5" stroke="#dddddd" stroke-dasharray="4 4" stroke-dashoffset="3" shape-rendering="crispEdges"/>
<polygon points="112.3,1390.6 112.3,1354.7 118.3,1353 125,1350 131.7,1347.3 137,1346.3 143.7,1345.3 163.7,1345.3 166.3,1346 174.3,1346.3 177.7,1347 183.7,1346.7 190.3,1345.3 198.3,1342.4 205,1340.3 210.3,1339 225.7,1339 227,1340 259.7,1340 261,1341 265.3,1341.3 273.3,1343.3 286.7,1347.3 300,1351 313.3,1354.4 326.7,1357.3 340,1360.4 353.3,1363.3 366.7,1365.7 377.3,1368 382.7,1370 388,1373.3 393.3,1378 400,1383.3 406.7,1387.3 416.5,1390.6" fill="#00ff00" fill-opacity="0.4" shape-rendering="crispEdges"/>
<polygon points="416.5,1390.6 426.7,1394.2 435,1398.3 443.3,1403 451.7,1409.2 460,1416.7 468.3,1425 476.7,1432.5 485,1438.3 493.3,1444.2 501.7,1447.5 518.3,1447.5 526.7,1446.3 543.3,1444.2 555,1443.3 570,1442 580,1442.5 596.7,1443.7 647.9,1444 660.4,1445.6 670.8,1448.3 683.3,1454 693.75,1461.25 722.9,1461.25 725,1460.8 754.2,1461.25 766.7,1463 783.3,1465 795.8,1465.4 808.3,1462.3 819.8,1458.1 831.25,1460.8 841.7,1463.3 850.4,1462.3 860.8,1457 871.25,1452.5 883.75,1447 894.2,1447.7 902.5,1454 912.9,1465.4 923.3,1472.7 933.75,1478.3 944.2,1481.7 956.7,1481 969.2,1480.4 983.75,1483.75 998.3,1483.1 1010.8,1478 1023.3,1473.75 1035.8,1468.5 1042.1,1461.25 1048.3,1450.8 1054.6,1438.3 1063.9,1417.6 1070.3,1409.3 1076.7,1397.4 1079.9,1390.6" fill="#ff0000" fill-opacity="0.4" shape-rendering="crispEdges"/>
<polygon points="1079.9,1390.6 1084,1382.2 1087.7,1377.2 1094.1,1372.6 1099.6,1368.5 1106,1365.7 1111.6,1361.6 1120.7,1356.6 1128.1,1351.5 1137.2,1345.5 1137.2,1390.6" fill="#00ff00" fill-opacity="0.4" shape-rendering="crispEdges"/>
<rect x="100" y="1313" width="1" height="188" fill="#333333"/>
<rect x="99" y="1314" width="3" height="2" fill="#000"/>
<rect x="98" y="1316" width="5" height="2" fill="#000"/>
<rect x="97" y="1318" width="7" height="2" fill="#000"/>
<rect x="100" y="1313" width="1" height="1" fill="#000"/>
<rect x="98" y="1500" width="1065" height="1" fill="#000"/>
<rect x="1155" y="1497" width="2" height="7" fill="#000"/>
<rect x="1157" y="1498" width="2" height="5" fill="#000"/>
<rect x="1159" y="1499" width="2" height="3" fill="#000"/>
<rect x="98" y="1325" width="5" height="1" fill="#000"/>
<rect x="98" y="1346" width="5" height="1" fill="#000"/>
<rect x="98" y="1368" width="5" height="1" fill="#000"/>
<rect x="98" y="1390" width="5" height="1" fill="#000"/>
<rect x="98" y="1412" width="5" height="1" fill="#000"/>
<rect x="98" y="1434" width="5" height="1" fill="#000"/>
<rect x="98" y="1456" width="5" height="1" fill="#000"/>
<rect x="98" y="1478" width="5" height="1" fill="#000"/>
<rect x="98" y="1500" width="5" height="1" fill="#000"/>
<rect x="98" y="1335" width="3" height="1" fill="#ff0000"/>
<rect x="98" y="1357" width="3" height="1" fill="#ff0000"/>
<rect x="98" y="1379" width="3" height="1" fill="#ff0000"/>
<rect x="98" y="1401" width="3" height="1" fill="#ff0000"/>
<rect x="98" y="1423" width="3" height="1" fill="#ff0000"/>
<rect x="98" y="1445" width="3" height="1" fill="#ff0000"/>
<rect x="98" y="1467" width="3" height="1" fill="#ff0000"/>
<rect x="98" y="1489" width="3" height="1" fill="#ff0000"/>
<rect x="112" y="1498" width="1" height="5" fill="#000"/>
<rect x="136" y="1501" width="1" height="2" fill="#dddddd"/>
<rect x="161" y="1501" width="1" height="2" fill="#dddddd"/>
<rect x="185" y="1501" width="1" height="2" fill="#dddddd"/>
<rect x="209" y="1501" width="1" height="2" fill="#dddddd"/>
<rect x="234" y="1498" width="1" height="5" fill="#000"/>
<rect x="258" y="1501" width="1" height="2" fill="#dddddd"/>
<rect x="283" y="1501" width="1" height="2" fill="#dddddd"/>
<rect x="307" y="1501" width="1" height="2" fill="#dddddd"/>
<rect x="331" y="1501" width="1" height="2" fill="#dddddd"/>
<rect x="356" y="1498" width="1" height="5" fill="#000"/>
<rect x="380" y="1501" width="1" height="2" fill="#dddddd"/>
<rect x="405" y="1501" width="1" height="2" fill="#dddddd"/>
<rect x="429" y="1501" width="1" height="2" fill="#dddddd"/>
<rect x="454" y="1501" width="1" height="2" fill="#dddddd"/>
<rect x="478" y="1498" width="1" height="5" fill="#000"/>
<rect x="502" y="1501" width="1" height="2" fill="#dddddd"/>
<rect x="527" y="1501" width="1" height="2" fill="#dddddd"/>
<rect x="551" y="1501" width="1" height="2" fill="#dddddd"/>
<rect x="576" y="1501" width="1" height="2" fill="#dddddd"/>
<rect x="600" y="1498" width="1" height="5" fill="#000"/>
<rect x="625" y="1501" width="1" height="2" fill="#dddddd"/>
<rect x="649" y="1501" width="1" height="2" fill="#dddddd"/>
<rect x="673" y="1501" width="1" height="2" fill="#dddddd"/>
<rect x="698" y="1501" width="1" height="2" fill="#dddddd"/>
<rect x="722" y="1498" width="1" height="5" fill="#000"/>
<rect x="747" y="1501" width="1" height="2" fill="#dddddd"/>
<rect x="771" y="1501" width="1" height="2" fill="#dddddd"/>
<rect x="795" y="1501" width="1" height="2" fill="#dddddd"/>
<rect x="820" y="1501" width="1" height="2" fill="#dddddd"/>
<rect x="844" y="1498" width="1" height="5" fill="#000"/>
<rect x="869" y="1501" width="1" height="2" fill="#dddddd"/>
<rect x="893" y="1501" width="1" height="2" fill="#dddddd"/>
<rect x="918" y="1501" width="1" height="2" fill="#dddddd"/>
<rect x="942" y="1501" width="1" height="2" fill="#dddddd"/>
<rect x="966" y="1498" width="1" height="5" fill="#000"/>
<rect x="991" y="1501" width="1" height="2" fill="#dddddd"/>
<rect x="1015" y="1501" width="1" height="2" fill="#dddddd"/>
<rect x="1040" y="1501" width="1" height="2" fill="#dddddd"/>
<rect x="1064" y="1501" width="1" height="2" fill="#dddddd"/>
<rect x="1088" y="1498" width="1" height="5" fill="#000"/>
<rect x="1113" y="1501" width="1" height="2" fill="#dddddd"/>
<rect x="1137" y="1501" width="1" height="2" fill="#dddddd"/>
<text x="111.36" y="1295" font-size="26.2" textLength="57.02" lengthAdjust="spacingAndGlyphs">SES:</text>
<text x="176.17" y="1295" font-size="26.2" textLength="119.52" lengthAdjust="spacingAndGlyphs">graphique</text>
<text x="303.33" y="1295" font-size="26.2" textLength="31.02" lengthAdjust="spacingAndGlyphs">du</text>
<text x="341.28" y="1295" font-size="26.2" textLength="72.6" lengthAdjust="spacingAndGlyphs">MACD</text>
<text x="423.5" y="1295" font-size="26.2" textLength="9" lengthAdjust="spacingAndGlyphs">-</text>
<text x="439.78" y="1295" font-size="26.2" textLength="188" lengthAdjust="spacingAndGlyphs">MACD(12,26,9)</text>
<text x="635.81" y="1295" font-size="26.2" textLength="11.18" lengthAdjust="spacingAndGlyphs">-</text>
<text x="655.25" y="1295" font-size="26.2" textLength="207.8" lengthAdjust="spacingAndGlyphs">AnalyBourse.com</text>
<text x="74.49" y="1330" font-size="11.6" textLength="24.23" lengthAdjust="spacingAndGlyphs">0.15</text>
<text x="74.25" y="1351" font-size="11.6" textLength="24.44" lengthAdjust="spacingAndGlyphs">0.10</text>
<text x="74.49" y="1373" font-size="11.6" textLength="24.23" lengthAdjust="spacingAndGlyphs">0.05</text>
<text x="74.25" y="1395" font-size="11.6" textLength="24.44" lengthAdjust="spacingAndGlyphs">0.00</text>
<text x="68.92" y="1417" font-size="11.6" textLength="29.83" lengthAdjust="spacingAndGlyphs">-0.05</text>
<text x="68.92" y="1439" font-size="11.6" textLength="29.79" lengthAdjust="spacingAndGlyphs">-0.10</text>
<text x="68.92" y="1461" font-size="11.6" textLength="29.83" lengthAdjust="spacingAndGlyphs">-0.15</text>
<text x="68.92" y="1483" font-size="11.6" textLength="29.79" lengthAdjust="spacingAndGlyphs">-0.20</text>
<text x="68.92" y="1505" font-size="11.6" textLength="29.83" lengthAdjust="spacingAndGlyphs">-0.25</text>
<text x="95.19" y="1513" font-size="11.6" textLength="36.9" lengthAdjust="spacingAndGlyphs">5 Sept</text>
<text x="212.71" y="1513" font-size="11.6" textLength="44.58" lengthAdjust="spacingAndGlyphs">12 Sept</text>
<text x="334.31" y="1513" font-size="11.6" textLength="44.99" lengthAdjust="spacingAndGlyphs">19 Sept</text>
<text x="456.85" y="1513" font-size="11.6" textLength="44.49" lengthAdjust="spacingAndGlyphs">26 Sept</text>
<text x="587.22" y="1513" font-size="11.6" textLength="29.97" lengthAdjust="spacingAndGlyphs">3 Oct</text>
<text x="704.84" y="1513" font-size="11.6" textLength="37.15" lengthAdjust="spacingAndGlyphs">10 Oct</text>
<text x="826.53" y="1513" font-size="11.6" textLength="37.36" lengthAdjust="spacingAndGlyphs">17 Oct</text>
<text x="949.07" y="1513" font-size="11.6" textLength="36.72" lengthAdjust="spacingAndGlyphs">24 Oct</text>
<text x="1071.32" y="1513" font-size="11.6" textLength="36.77" lengthAdjust="spacingAndGlyphs">31 Oct</text>
<text x="481.69" y="1527" font-size="11.6" textLength="289.12" lengthAdjust="spacingAndGlyphs">Date (du 5 Septembre 2016 au 2 Novembre 2016)</text>
<g transform="translate(67,1427) rotate(-90)">
<text x="-0.96" y="0" font-size="11.6" textLength="34.52" lengthAdjust="spacingAndGlyphs">MACD</text>
</g>
</svg></body></html>
